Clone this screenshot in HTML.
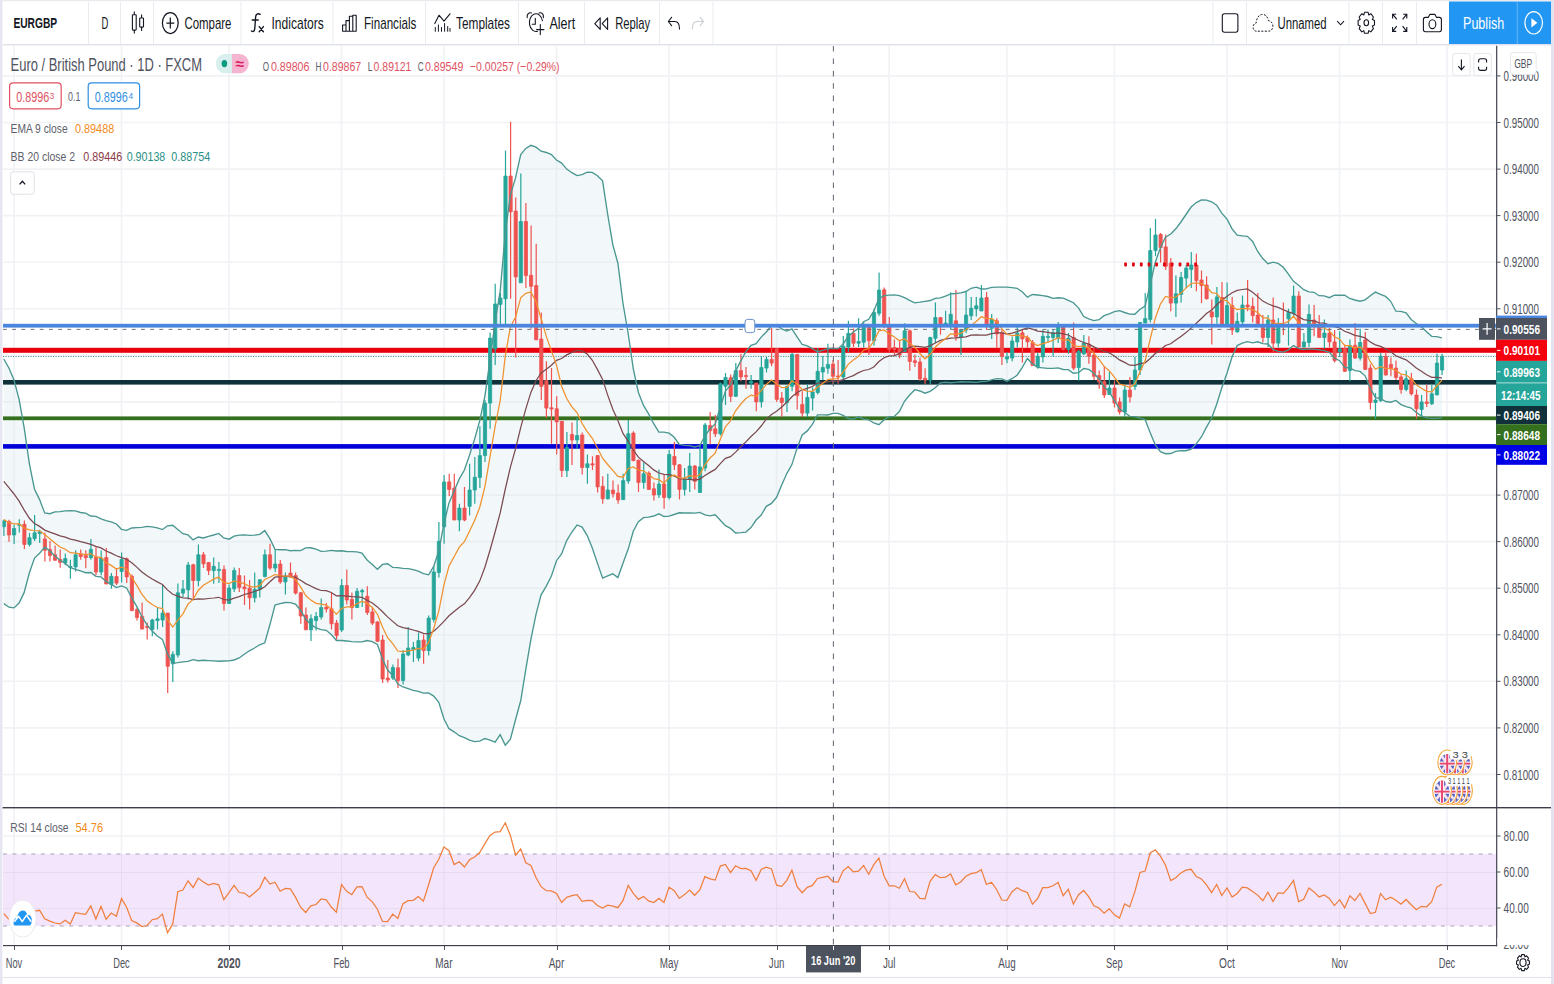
<!DOCTYPE html>
<html><head><meta charset="utf-8"><title>EURGBP</title>
<style>
html,body{margin:0;padding:0;background:#fff;}
body{width:1554px;height:984px;overflow:hidden;position:relative;font-family:"Liberation Sans",sans-serif;}
text{font-family:"Liberation Sans",sans-serif;}
</style></head><body>
<svg width="1554" height="984" viewBox="0 0 1554 984" style="position:absolute;left:0;top:0">
<rect x="0" y="0" width="1554" height="984" fill="#fff"/>
<path d="M14.0,46V945 M121.5,46V945 M229.0,46V945 M341.5,46V945 M443.9,46V945 M556.5,46V945 M669.1,46V945 M776.6,46V945 M889.2,46V945 M1006.9,46V945 M1114.4,46V945 M1227.0,46V945 M1339.6,46V945 M1447.0,46V945 M3,75.9H1496 M3,122.5H1496 M3,169.1H1496 M3,215.6H1496 M3,262.2H1496 M3,308.8H1496 M3,355.4H1496 M3,401.9H1496 M3,448.5H1496 M3,495.1H1496 M3,541.6H1496 M3,588.2H1496 M3,634.8H1496 M3,681.3H1496 M3,727.9H1496 M3,774.5H1496 M3,836.0H1496 M3,872.0H1496 M3,908.0H1496" stroke="#f1f2f5" stroke-width="1.6" fill="none"/>
<rect x="3" y="854.0" width="1493" height="72.0" fill="#f3e5fb"/>
<path d="M14.0,46V945 M121.5,46V945 M229.0,46V945 M341.5,46V945 M443.9,46V945 M556.5,46V945 M669.1,46V945 M776.6,46V945 M889.2,46V945 M1006.9,46V945 M1114.4,46V945 M1227.0,46V945 M1339.6,46V945 M1447.0,46V945" stroke="#e6dbef" stroke-width="1" fill="none" clip-path="url(#rb)"/>
<clipPath id="rb"><rect x="3" y="854.0" width="1493" height="72.0"/></clipPath>
<path d="M3,872.5H1496M3,908.5H1496" stroke="#e6dbef" stroke-width="1"/>
<path d="M3,854.0H1496M3,926.0H1496" stroke="#aaa3b7" stroke-width="1" stroke-dasharray="4,5.46"/>
<clipPath id="mp"><rect x="2" y="46" width="1494" height="761"/></clipPath>
<g clip-path="url(#mp)">
<polygon points="3.8,359.0 8.9,368.0 14.0,380.0 19.1,399.3 24.2,427.9 29.4,463.8 34.5,489.2 39.6,499.6 44.7,513.0 49.8,513.7 54.9,511.8 60.1,511.6 65.2,510.9 70.3,510.8 75.4,510.9 80.5,512.5 85.6,513.1 90.8,516.0 95.9,516.3 101.0,518.8 106.1,520.7 111.2,521.8 116.4,524.0 121.5,529.3 126.6,530.4 131.7,528.0 136.8,527.6 141.9,527.4 147.1,526.4 152.2,526.9 157.3,527.9 162.4,529.6 167.5,525.8 172.7,525.3 177.8,529.6 182.9,533.7 188.0,534.9 193.1,539.9 198.2,537.0 203.4,538.0 208.5,536.4 213.6,535.0 218.7,533.4 223.8,538.0 229.0,539.2 234.1,536.1 239.2,535.1 244.3,534.9 249.4,535.3 254.5,535.1 259.7,534.4 264.8,530.6 269.9,538.7 275.0,549.4 280.1,549.7 285.2,549.6 290.4,550.7 295.5,550.4 300.6,550.6 305.7,547.9 310.8,547.8 316.0,549.2 321.1,551.3 326.2,551.2 331.3,550.4 336.4,551.0 341.5,550.8 346.7,551.5 351.8,551.7 356.9,551.8 362.0,553.0 367.1,560.0 372.3,564.4 377.4,569.2 382.5,564.4 387.6,563.8 392.7,567.3 397.8,567.6 403.0,568.4 408.1,568.7 413.2,569.7 418.3,571.1 423.4,573.7 428.6,574.8 433.7,566.4 438.8,550.8 443.9,524.0 449.0,502.9 454.1,491.1 459.3,478.9 464.4,470.0 469.5,455.1 474.6,439.1 479.7,420.9 484.9,396.1 490.0,360.2 495.1,321.9 500.2,291.1 505.3,232.8 510.4,195.1 515.6,177.7 520.7,154.6 525.8,148.4 530.9,145.3 536.0,147.1 541.1,151.2 546.3,152.5 551.4,154.6 556.5,160.0 561.6,163.1 566.7,169.1 571.9,172.7 577.0,175.6 582.1,174.7 587.2,172.2 592.3,172.4 597.4,175.7 602.6,180.8 607.7,214.5 612.8,244.7 617.9,263.2 623.0,303.5 628.2,333.5 633.3,368.8 638.4,392.5 643.5,405.4 648.6,413.9 653.7,423.7 658.9,432.1 664.0,432.1 669.1,433.2 674.2,437.3 679.3,444.3 684.5,445.3 689.6,445.6 694.7,447.0 699.8,445.7 704.9,435.8 710.0,429.0 715.2,424.0 720.3,407.0 725.4,391.2 730.5,384.8 735.6,371.1 740.8,360.9 745.9,351.7 751.0,345.4 756.1,343.7 761.2,337.1 766.3,332.0 771.5,325.7 776.6,325.3 781.7,328.8 786.8,331.1 791.9,328.9 797.1,336.8 802.2,344.5 807.3,345.9 812.4,348.6 817.5,351.8 822.6,350.3 827.8,348.7 832.9,348.3 838.0,348.9 843.1,344.0 848.2,336.5 853.3,332.0 858.5,328.4 863.6,321.7 868.7,319.3 873.8,311.0 878.9,298.4 884.1,295.7 889.2,295.2 894.3,294.9 899.4,295.7 904.5,297.7 909.6,300.4 914.8,302.8 919.9,302.2 925.0,301.4 930.1,300.5 935.2,298.3 940.4,297.8 945.5,296.1 950.6,293.8 955.7,293.5 960.8,292.8 965.9,291.5 971.1,288.3 976.2,287.2 981.3,289.0 986.4,288.8 991.5,287.3 996.7,287.1 1001.8,287.1 1006.9,287.2 1012.0,287.7 1017.1,288.3 1022.2,291.8 1027.4,297.1 1032.5,294.5 1037.6,295.0 1042.7,295.7 1047.8,296.5 1053.0,298.4 1058.1,297.8 1063.2,298.2 1068.3,300.3 1073.4,302.7 1078.5,307.8 1083.7,316.5 1088.8,318.9 1093.9,320.6 1099.0,319.7 1104.1,315.6 1109.2,313.8 1114.4,311.6 1119.5,310.6 1124.6,312.5 1129.7,314.1 1134.8,314.2 1140.0,309.3 1145.1,306.1 1150.2,284.3 1155.3,262.3 1160.4,247.7 1165.5,237.3 1170.7,234.0 1175.8,228.8 1180.9,222.0 1186.0,214.5 1191.1,207.0 1196.3,202.6 1201.4,199.9 1206.5,200.2 1211.6,201.8 1216.7,205.2 1221.8,213.1 1227.0,219.1 1232.1,228.8 1237.2,235.2 1242.3,235.9 1247.4,236.3 1252.6,241.5 1257.7,251.5 1262.8,258.6 1267.9,263.7 1273.0,262.2 1278.1,263.4 1283.3,267.3 1288.4,274.1 1293.5,281.4 1298.6,285.3 1303.7,289.7 1308.9,291.9 1314.0,292.3 1319.1,295.7 1324.2,295.8 1329.3,297.7 1334.4,295.2 1339.6,295.2 1344.7,295.2 1349.8,298.5 1354.9,300.0 1360.0,301.2 1365.1,299.9 1370.3,295.7 1375.4,292.1 1380.5,294.3 1385.6,296.4 1390.7,301.3 1395.9,311.2 1401.0,311.3 1406.1,312.9 1411.2,319.5 1416.3,323.5 1421.4,326.7 1426.6,331.7 1431.7,336.3 1436.8,336.6 1441.9,337.9 1441.9,417.7 1436.8,418.3 1431.7,418.4 1426.6,417.8 1421.4,415.8 1416.3,412.5 1411.2,408.0 1406.1,406.7 1401.0,404.6 1395.9,400.4 1390.7,402.2 1385.6,401.5 1380.5,398.5 1375.4,397.6 1370.3,388.3 1365.1,375.8 1360.0,371.4 1354.9,370.7 1349.8,368.0 1344.7,367.3 1339.6,360.7 1334.4,358.0 1329.3,352.4 1324.2,350.7 1319.1,349.9 1314.0,349.2 1308.9,348.9 1303.7,349.5 1298.6,348.3 1293.5,345.6 1288.4,349.8 1283.3,352.1 1278.1,351.3 1273.0,349.4 1267.9,344.0 1262.8,343.7 1257.7,341.8 1252.6,342.9 1247.4,341.6 1242.3,343.2 1237.2,345.6 1232.1,356.8 1227.0,373.3 1221.8,387.7 1216.7,404.3 1211.6,418.3 1206.5,427.1 1201.4,437.0 1196.3,443.9 1191.1,449.1 1186.0,450.7 1180.9,450.7 1175.8,451.3 1170.7,453.5 1165.5,453.7 1160.4,451.6 1155.3,445.0 1150.2,432.8 1145.1,419.5 1140.0,418.1 1134.8,416.6 1129.7,416.3 1124.6,412.3 1119.5,409.1 1114.4,400.3 1109.2,391.9 1104.1,386.9 1099.0,379.0 1093.9,373.2 1088.8,369.4 1083.7,368.5 1078.5,372.7 1073.4,373.2 1068.3,369.7 1063.2,369.5 1058.1,367.9 1053.0,368.3 1047.8,368.3 1042.7,367.8 1037.6,367.3 1032.5,363.9 1027.4,358.5 1022.2,367.6 1017.1,375.2 1012.0,378.7 1006.9,381.2 1001.8,378.8 996.7,378.6 991.5,379.9 986.4,381.4 981.3,381.5 976.2,382.4 971.1,382.0 965.9,382.0 960.8,381.8 955.7,382.3 950.6,382.7 945.5,382.3 940.4,382.9 935.2,387.7 930.1,391.3 925.0,393.2 919.9,391.0 914.8,389.7 909.6,395.0 904.5,401.3 899.4,411.6 894.3,416.4 889.2,416.6 884.1,419.8 878.9,424.7 873.8,423.0 868.7,419.8 863.6,419.2 858.5,416.8 853.3,419.1 848.2,418.5 843.1,415.3 838.0,413.4 832.9,413.4 827.8,415.0 822.6,414.8 817.5,414.8 812.4,424.3 807.3,430.9 802.2,435.0 797.1,448.1 791.9,464.6 786.8,473.6 781.7,485.1 776.6,497.3 771.5,503.4 766.3,506.3 761.2,515.0 756.1,520.0 751.0,527.6 745.9,532.1 740.8,532.7 735.6,533.0 730.5,528.4 725.4,525.7 720.3,520.2 715.2,514.8 710.0,515.9 704.9,514.9 699.8,512.4 694.7,513.1 689.6,512.9 684.5,513.0 679.3,512.8 674.2,514.5 669.1,516.1 664.0,516.5 658.9,513.8 653.7,516.0 648.6,517.2 643.5,517.6 638.4,521.7 633.3,531.2 628.2,549.1 623.0,563.2 617.9,577.6 612.8,573.8 607.7,575.8 602.6,578.1 597.4,563.1 592.3,548.1 587.2,535.6 582.1,527.1 577.0,525.0 571.9,532.0 566.7,540.6 561.6,553.9 556.5,560.7 551.4,576.0 546.3,586.1 541.1,594.8 536.0,614.4 530.9,639.4 525.8,669.4 520.7,700.8 515.6,719.5 510.4,739.2 505.3,745.2 500.2,734.7 495.1,742.1 490.0,740.2 484.9,738.5 479.7,741.2 474.6,741.6 469.5,740.2 464.4,737.6 459.3,735.7 454.1,731.8 449.0,728.7 443.9,718.7 438.8,702.3 433.7,696.1 428.6,692.9 423.4,693.1 418.3,691.4 413.2,690.4 408.1,688.6 403.0,687.0 397.8,684.0 392.7,675.5 387.6,670.0 382.5,659.1 377.4,644.5 372.3,641.6 367.1,640.5 362.0,641.8 356.9,641.8 351.8,641.7 346.7,641.0 341.5,640.5 336.4,640.5 331.3,634.6 326.2,630.3 321.1,629.6 316.0,627.9 310.8,624.3 305.7,619.3 300.6,610.1 295.5,604.2 290.4,602.6 285.2,602.5 280.1,603.7 275.0,605.1 269.9,624.8 264.8,642.8 259.7,644.8 254.5,648.0 249.4,650.8 244.3,654.2 239.2,658.0 234.1,660.0 229.0,660.9 223.8,661.0 218.7,661.2 213.6,660.9 208.5,660.6 203.4,660.3 198.2,660.7 193.1,659.6 188.0,661.4 182.9,661.9 177.8,662.7 172.7,663.2 167.5,653.9 162.4,639.4 157.3,636.0 152.2,631.1 147.1,625.2 141.9,616.5 136.8,606.6 131.7,597.7 126.6,588.0 121.5,585.9 116.4,587.6 111.2,584.4 106.1,581.4 101.0,576.9 95.9,576.3 90.8,572.5 85.6,572.7 80.5,570.9 75.4,569.4 70.3,567.7 65.2,563.4 60.1,560.3 54.9,555.9 49.8,550.7 44.7,547.1 39.6,553.2 34.5,558.1 29.4,572.8 24.2,592.4 19.1,603.1 14.0,607.9 8.9,607.2 3.8,603.6" fill="#d9e9ee" fill-opacity="0.35"/>
<rect x="3" y="347.8" width="1493" height="5" fill="#e8000c"/>
<path d="M3,356.5H1496" stroke="#5f9a95" stroke-width="1" stroke-dasharray="1.2,1.3"/>
<rect x="3" y="380" width="1493" height="4.6" fill="#10303a"/>
<rect x="3" y="416.4" width="1493" height="3.8" fill="#34701e"/>
<rect x="3" y="444.1" width="1493" height="4.600" fill="#0000d8"/>
<path d="M3.9,519.7V536.0M14.1,525.1V543.9M19.3,519.2V532.6M29.5,533.0V546.4M34.6,515.0V541.0M39.7,529.7V543.1M65.3,553.6V565.3M70.4,559.8V578.7M75.6,550.2V571.5M90.9,538.9V559.8M101.2,550.4V575.2M111.4,573.1V588.8M121.6,552.5V582.5M152.3,618.8V636.3M157.5,606.9V629.4M162.6,585.0V626.9M172.8,651.3V681.9M177.9,583.5V657.5M183.0,580.0V596.9M188.2,561.9V599.4M198.4,544.4V586.3M213.7,557.5V583.8M218.9,561.9V583.1M229.1,584.4V603.5M234.2,567.5V591.9M254.7,572.5V602.5M259.8,579.4V597.5M264.9,549.4V577.5M275.2,549.4V571.9M285.4,572.5V594.4M311.0,614.4V641.0M316.1,611.9V630.6M321.2,598.5V619.4M341.7,579.0V631.9M357.1,588.1V607.5M362.2,588.8V606.9M392.9,664.4V680.0M403.1,650.0V684.4M408.2,626.9V656.3M413.4,641.9V661.9M418.5,632.5V661.3M428.7,615.6V655.6M433.8,566.0V622.5M438.9,521.9V577.5M444.1,475.0V543.8M459.4,503.8V531.3M469.6,463.8V515.6M474.8,456.9V503.8M479.9,426.3V488.1M485.0,400.0V461.9M490.1,332.5V428.8M495.2,283.8V365.0M500.4,293.1V325.0M505.5,150.5V325.0M520.8,173.6V282.8M566.9,431.9V476.9M577.1,417.5V448.8M587.4,454.4V483.8M607.8,473.8V499.4M623.2,473.8V500.0M628.3,420.0V483.8M643.7,462.5V488.8M659.0,469.4V498.1M669.2,450.0V499.4M684.6,468.1V495.6M689.7,453.1V491.9M700.0,445.6V492.5M705.1,423.1V471.3M720.4,382.5V435.6M725.5,373.1V405.0M735.8,363.1V396.9M751.1,375.0V388.8M761.4,356.3V407.5M766.5,356.9V372.5M787.0,386.0V411.9M792.1,353.1V391.3M807.4,384.4V416.9M812.6,387.5V410.6M817.7,348.1V394.4M822.8,356.0V380.0M827.9,343.8V373.8M843.3,336.0V380.0M848.4,320.7V352.0M858.6,318.3V347.0M863.7,322.2V347.6M874.0,308.9V345.8M879.1,272.6V315.8M904.7,323.3V352.0M930.3,336.8V383.9M935.4,302.6V343.3M945.6,310.8V324.5M950.7,292.3V329.5M961.0,328.9V355.1M966.1,292.0V333.3M971.2,297.0V320.1M976.3,297.0V316.4M981.4,285.1V311.0M991.7,313.9V338.9M1007.0,352.3V363.2M1012.2,336.6V361.3M1017.3,326.9V347.5M1037.7,352.5V368.8M1042.9,329.4V362.5M1048.0,329.4V342.5M1053.1,330.0V356.3M1058.2,321.9V343.1M1068.5,333.1V353.8M1078.7,349.4V380.6M1083.8,335.0V355.0M1109.4,371.9V395.0M1124.8,385.6V416.9M1135.0,356.9V390.0M1140.1,321.9V375.0M1145.2,293.1V323.1M1150.3,228.1V322.5M1155.5,219.0V256.3M1175.9,275.6V316.9M1181.1,271.9V302.5M1186.2,265.0V288.1M1191.3,251.9V288.1M1216.9,286.9V323.8M1227.1,282.5V324.4M1237.3,312.5V332.5M1242.5,295.6V324.4M1268.1,315.0V346.9M1278.3,318.1V347.5M1288.5,308.8V345.6M1293.6,285.6V317.5M1303.9,333.1V347.5M1309.0,304.4V346.9M1324.4,319.4V348.8M1339.7,331.3V356.9M1349.9,339.4V381.3M1360.2,328.8V360.6M1375.5,393.1V418.8M1380.7,353.1V401.9M1406.2,370.6V391.3M1421.6,395.0V416.3M1431.8,384.4V405.0M1437.0,353.8V395.6M1442.1,353.8V375.0" stroke="#26a69a" stroke-width="1.2" fill="none"/>
<path d="M9.0,519.7V541.7M24.4,520.5V549.0M44.9,532.6V561.5M50.0,541.0V561.5M55.1,545.6V560.3M60.2,549.4V567.8M80.7,549.4V559.8M85.8,550.2V568.2M96.0,547.3V575.3M106.3,548.1V584.0M116.5,568.1V585.0M126.7,557.5V583.1M131.9,574.4V611.3M137.0,607.5V620.6M142.1,602.5V629.4M147.2,622.5V639.4M167.7,613.1V693.1M193.3,563.8V600.0M203.5,551.9V568.1M208.6,561.9V575.0M224.0,565.6V610.6M239.3,568.1V591.9M244.5,575.6V605.0M249.6,580.0V609.4M270.0,543.8V570.0M280.3,560.0V583.8M290.5,562.5V577.5M295.6,572.5V594.4M300.8,591.9V623.8M305.9,607.5V629.8M326.3,603.1V612.5M331.5,593.1V629.4M336.6,620.0V639.4M346.8,569.4V604.4M351.9,592.5V619.4M367.3,586.3V615.0M372.4,608.0V625.0M377.5,621.3V641.9M382.6,635.0V683.1M387.8,660.0V682.5M398.0,658.8V688.0M423.6,634.4V663.8M449.2,473.8V496.3M454.3,473.8V520.0M464.5,486.9V521.3M510.6,121.8V298.8M515.7,197.4V357.5M525.9,203.0V288.1M531.1,225.5V328.8M536.2,243.8V339.8M541.3,312.5V400.0M546.4,361.3V418.1M551.5,368.1V443.8M556.7,396.3V454.4M561.8,421.3V476.9M572.0,422.5V465.0M582.2,432.5V474.4M592.5,456.3V470.0M597.6,455.0V492.5M602.7,476.3V503.8M613.0,480.6V497.5M618.1,484.4V503.8M633.4,431.3V461.3M638.5,459.4V491.9M648.8,471.3V490.0M653.9,482.5V500.6M664.1,475.0V508.8M674.4,441.9V470.0M679.5,464.0V499.4M694.8,465.0V489.4M710.2,411.9V444.4M715.3,415.0V436.9M730.7,374.4V401.9M740.9,353.8V381.3M746.0,366.9V388.8M756.3,383.0V411.3M771.6,328.1V366.3M776.7,348.0V401.9M781.8,391.9V416.9M797.2,354.0V409.4M802.3,391.3V416.9M833.0,360.0V383.8M838.1,360.0V383.8M853.5,328.5V347.0M868.9,326.5V355.0M884.2,287.6V328.3M889.3,317.0V352.6M894.4,339.5V355.1M899.6,340.1V358.3M909.8,329.5V370.8M914.9,354.5V367.0M920.0,357.6V380.8M925.1,368.3V383.9M940.5,317.0V334.5M955.9,290.1V340.8M986.6,292.0V330.1M996.8,318.3V348.3M1001.9,328.8V365.0M1022.4,330.0V362.5M1027.5,335.6V347.5M1032.6,340.0V365.6M1063.3,325.0V350.6M1073.6,322.5V370.0M1088.9,336.3V363.8M1094.0,347.5V380.0M1099.2,370.6V388.8M1104.3,366.3V398.1M1114.5,380.6V407.5M1119.6,397.5V414.4M1129.9,376.9V402.5M1160.6,233.1V262.5M1165.7,234.4V270.0M1170.8,258.1V311.3M1196.4,253.8V291.3M1201.5,270.6V303.1M1206.6,276.3V299.4M1211.8,299.4V344.4M1222.0,281.9V324.4M1232.2,296.9V335.0M1247.6,280.0V311.3M1252.7,297.5V322.5M1257.8,293.1V323.8M1262.9,315.0V342.5M1273.2,297.5V351.9M1283.4,302.5V335.0M1298.8,291.3V348.8M1314.1,305.0V336.3M1319.2,315.0V337.5M1329.5,328.1V347.5M1334.6,330.0V362.5M1344.8,344.4V371.9M1355.1,323.1V358.8M1365.3,331.9V370.0M1370.4,364.4V409.4M1385.8,352.5V375.6M1390.9,357.5V376.3M1396.0,360.6V380.0M1401.1,375.0V393.8M1411.4,373.1V395.6M1416.5,389.4V418.8M1426.7,384.4V406.9" stroke="#ef5350" stroke-width="1.2" fill="none"/>
<path d="M2.3,520.9h3.2v5.9h-3.2zM12.5,528.5h3.2v6.5h-3.2zM17.7,524.3h3.2v1.0h-3.2zM27.9,537.7h3.2v6.7h-3.2zM33.0,532.8h3.2v5.9h-3.2zM38.1,531.8h3.2v1.7h-3.2zM63.7,558.6h3.2v4.2h-3.2zM68.8,566.5h3.2v1.0h-3.2zM74.0,554.8h3.2v12.1h-3.2zM89.3,549.4h3.2v8.3h-3.2zM99.6,558.0h3.2v14.0h-3.2zM109.8,576.3h3.2v8.1h-3.2zM120.0,559.4h3.2v12.1h-3.2zM150.7,620.0h3.2v9.4h-3.2zM155.9,618.8h3.2v1.8h-3.2zM161.0,613.1h3.2v6.9h-3.2zM171.2,654.4h3.2v9.4h-3.2zM176.3,592.8h3.2v62.2h-3.2zM181.4,589.0h3.2v4.1h-3.2zM186.6,565.0h3.2v24.8h-3.2zM196.8,554.8h3.2v25.8h-3.2zM212.1,566.3h3.2v4.3h-3.2zM217.3,569.4h3.2v1.2h-3.2zM227.5,588.1h3.2v15.4h-3.2zM232.6,570.6h3.2v18.2h-3.2zM253.1,589.4h3.2v8.4h-3.2zM258.2,579.8h3.2v9.6h-3.2zM263.3,554.8h3.2v21.7h-3.2zM273.6,564.0h3.2v4.1h-3.2zM283.8,576.3h3.2v5.6h-3.2zM309.4,618.8h3.2v11.0h-3.2zM314.5,616.5h3.2v4.1h-3.2zM319.6,607.5h3.2v9.4h-3.2zM340.1,585.6h3.2v44.4h-3.2zM355.5,591.3h3.2v16.2h-3.2zM360.6,590.6h3.2v1.3h-3.2zM391.3,667.5h3.2v10.6h-3.2zM401.5,654.0h3.2v26.6h-3.2zM406.6,648.1h3.2v6.9h-3.2zM411.8,647.5h3.2v1.9h-3.2zM416.9,640.6h3.2v17.5h-3.2zM427.1,618.1h3.2v32.5h-3.2zM432.2,571.9h3.2v47.5h-3.2zM437.3,541.3h3.2v31.2h-3.2zM442.5,481.9h3.2v45.0h-3.2zM457.8,508.1h3.2v11.9h-3.2zM468.0,490.0h3.2v16.3h-3.2zM473.2,477.3h3.2v12.7h-3.2zM478.3,455.6h3.2v21.9h-3.2zM483.4,403.1h3.2v52.5h-3.2zM488.5,338.1h3.2v65.0h-3.2zM493.6,304.0h3.2v44.8h-3.2zM498.8,298.1h3.2v6.3h-3.2zM503.9,176.1h3.2v122.7h-3.2zM519.2,221.5h3.2v61.3h-3.2zM565.3,447.5h3.2v23.1h-3.2zM575.5,435.6h3.2v4.4h-3.2zM585.8,463.8h3.2v3.7h-3.2zM606.2,490.0h3.2v8.8h-3.2zM621.6,480.6h3.2v19.0h-3.2zM626.7,433.8h3.2v47.2h-3.2zM642.1,473.8h3.2v8.7h-3.2zM657.4,484.0h3.2v10.8h-3.2zM667.6,454.4h3.2v43.1h-3.2zM683.0,478.8h3.2v10.6h-3.2zM688.1,466.0h3.2v13.0h-3.2zM698.4,466.9h3.2v25.6h-3.2zM703.5,425.0h3.2v43.1h-3.2zM718.8,383.8h3.2v50.0h-3.2zM723.9,377.5h3.2v8.8h-3.2zM734.2,370.6h3.2v25.7h-3.2zM749.5,381.3h3.2v1.8h-3.2zM759.8,367.5h3.2v34.4h-3.2zM764.9,359.4h3.2v8.7h-3.2zM785.4,386.3h3.2v16.2h-3.2zM790.5,354.4h3.2v31.9h-3.2zM805.8,397.5h3.2v15.6h-3.2zM811.0,391.9h3.2v6.2h-3.2zM816.1,371.3h3.2v21.2h-3.2zM821.2,367.5h3.2v4.5h-3.2zM826.3,364.4h3.2v3.8h-3.2zM841.7,346.3h3.2v30.7h-3.2zM846.8,333.4h3.2v13.6h-3.2zM857.0,341.6h3.2v1.6h-3.2zM862.1,325.4h3.2v16.8h-3.2zM872.4,312.6h3.2v28.2h-3.2zM877.5,290.1h3.2v23.2h-3.2zM903.1,330.8h3.2v20.6h-3.2zM928.7,337.6h3.2v42.5h-3.2zM933.8,317.6h3.2v20.7h-3.2zM944.0,323.0h3.2v1.5h-3.2zM949.1,314.3h3.2v9.6h-3.2zM959.4,329.5h3.2v7.5h-3.2zM964.5,315.1h3.2v15.0h-3.2zM969.6,308.3h3.2v7.5h-3.2zM974.7,305.8h3.2v3.1h-3.2zM979.8,298.0h3.2v13.0h-3.2zM990.1,319.5h3.2v8.8h-3.2zM1005.4,357.0h3.2v2.0h-3.2zM1010.6,341.0h3.2v17.0h-3.2zM1015.7,333.1h3.2v8.8h-3.2zM1036.1,356.3h3.2v10.6h-3.2zM1041.3,336.3h3.2v20.6h-3.2zM1046.4,336.3h3.2v1.2h-3.2zM1051.5,332.8h3.2v4.7h-3.2zM1056.6,326.9h3.2v11.2h-3.2zM1066.9,338.1h3.2v11.3h-3.2zM1077.1,351.3h3.2v16.2h-3.2zM1082.2,343.1h3.2v10.7h-3.2zM1107.8,388.1h3.2v6.3h-3.2zM1123.2,390.0h3.2v21.9h-3.2zM1133.4,370.0h3.2v16.3h-3.2zM1138.5,322.5h3.2v47.5h-3.2zM1143.6,318.5h3.2v4.6h-3.2zM1148.7,250.6h3.2v68.8h-3.2zM1153.9,235.0h3.2v15.6h-3.2zM1174.3,293.8h3.2v9.3h-3.2zM1179.5,277.5h3.2v16.9h-3.2zM1184.6,268.1h3.2v10.0h-3.2zM1189.7,265.0h3.2v4.4h-3.2zM1215.3,296.9h3.2v20.0h-3.2zM1225.5,305.6h3.2v18.8h-3.2zM1235.7,321.3h3.2v10.6h-3.2zM1240.9,305.0h3.2v16.9h-3.2zM1266.5,320.0h3.2v17.5h-3.2zM1276.7,324.4h3.2v18.7h-3.2zM1286.9,312.5h3.2v6.3h-3.2zM1292.0,296.0h3.2v17.8h-3.2zM1302.3,341.9h3.2v5.0h-3.2zM1307.4,314.4h3.2v28.1h-3.2zM1322.8,333.1h3.2v4.4h-3.2zM1338.1,348.8h3.2v3.1h-3.2zM1348.3,345.6h3.2v25.0h-3.2zM1358.6,342.5h3.2v15.6h-3.2zM1373.9,400.0h3.2v2.5h-3.2zM1379.1,356.3h3.2v44.3h-3.2zM1404.6,378.8h3.2v10.6h-3.2zM1420.0,401.9h3.2v7.5h-3.2zM1430.2,393.8h3.2v10.0h-3.2zM1435.4,363.1h3.2v31.7h-3.2zM1440.5,356.3h3.2v13.7h-3.2z" fill="#26a69a" stroke="#26a69a" stroke-width="0.8"/>
<path d="M7.4,521.6h3.2v13.4h-3.2zM22.8,524.3h3.2v20.1h-3.2zM43.3,538.9h3.2v11.3h-3.2zM48.4,549.4h3.2v6.2h-3.2zM53.5,554.8h3.2v5.5h-3.2zM58.6,559.4h3.2v2.9h-3.2zM79.1,554.0h3.2v2.5h-3.2zM84.2,555.6h3.2v2.1h-3.2zM94.4,556.9h3.2v15.1h-3.2zM104.7,557.5h3.2v26.5h-3.2zM114.9,576.5h3.2v6.6h-3.2zM125.1,558.8h3.2v18.1h-3.2zM130.3,576.3h3.2v34.3h-3.2zM135.4,609.4h3.2v8.1h-3.2zM140.5,616.3h3.2v12.7h-3.2zM145.6,626.3h3.2v1.2h-3.2zM166.1,613.1h3.2v53.2h-3.2zM191.7,564.8h3.2v15.8h-3.2zM201.9,554.8h3.2v9.0h-3.2zM207.0,562.5h3.2v8.1h-3.2zM222.4,569.6h3.2v33.9h-3.2zM237.7,575.6h3.2v11.9h-3.2zM242.9,586.9h3.2v1.9h-3.2zM248.0,588.1h3.2v9.7h-3.2zM268.4,554.8h3.2v13.3h-3.2zM278.7,564.0h3.2v17.9h-3.2zM288.9,573.1h3.2v3.8h-3.2zM294.0,575.6h3.2v17.5h-3.2zM299.2,592.8h3.2v23.2h-3.2zM304.3,615.0h3.2v14.8h-3.2zM324.7,607.3h3.2v1.7h-3.2zM329.9,608.8h3.2v15.0h-3.2zM335.0,623.1h3.2v12.5h-3.2zM345.2,585.6h3.2v14.4h-3.2zM350.3,599.4h3.2v8.1h-3.2zM365.7,596.3h3.2v16.2h-3.2zM370.8,611.9h3.2v11.2h-3.2zM375.9,621.9h3.2v19.4h-3.2zM381.0,640.0h3.2v39.0h-3.2zM386.2,678.1h3.2v1.9h-3.2zM396.4,667.8h3.2v12.8h-3.2zM422.0,640.0h3.2v10.6h-3.2zM447.6,481.9h3.2v7.5h-3.2zM452.7,488.1h3.2v31.9h-3.2zM462.9,508.1h3.2v11.9h-3.2zM509.0,176.1h3.2v35.7h-3.2zM514.1,211.1h3.2v65.8h-3.2zM524.3,221.5h3.2v54.1h-3.2zM529.5,275.3h3.2v11.0h-3.2zM534.6,285.6h3.2v54.2h-3.2zM539.7,339.0h3.2v47.3h-3.2zM544.8,380.6h3.2v27.5h-3.2zM549.9,407.8h3.2v1.2h-3.2zM555.1,408.8h3.2v13.1h-3.2zM560.2,421.3h3.2v49.3h-3.2zM570.4,434.4h3.2v5.6h-3.2zM580.6,435.0h3.2v32.5h-3.2zM590.9,463.8h3.2v1.2h-3.2zM596.0,455.6h3.2v31.3h-3.2zM601.1,486.3h3.2v12.5h-3.2zM611.4,490.0h3.2v3.8h-3.2zM616.5,493.1h3.2v6.9h-3.2zM631.8,433.1h3.2v27.5h-3.2zM636.9,460.3h3.2v22.2h-3.2zM647.2,473.1h3.2v16.3h-3.2zM652.3,488.8h3.2v6.2h-3.2zM662.5,484.0h3.2v13.5h-3.2zM672.8,456.5h3.2v8.3h-3.2zM677.9,464.8h3.2v24.6h-3.2zM693.2,466.0h3.2v15.3h-3.2zM708.6,425.6h3.2v5.0h-3.2zM713.7,428.8h3.2v5.0h-3.2zM729.1,377.8h3.2v18.5h-3.2zM739.3,370.6h3.2v6.3h-3.2zM744.4,375.6h3.2v1.0h-3.2zM754.7,383.1h3.2v18.8h-3.2zM770.0,359.4h3.2v3.7h-3.2zM775.1,348.8h3.2v50.6h-3.2zM780.2,398.1h3.2v4.4h-3.2zM795.6,354.4h3.2v41.2h-3.2zM800.7,404.4h3.2v8.7h-3.2zM831.4,364.0h3.2v12.3h-3.2zM836.5,376.0h3.2v1.0h-3.2zM851.9,333.5h3.2v9.7h-3.2zM867.3,327.0h3.2v13.7h-3.2zM882.6,289.8h3.2v36.6h-3.2zM887.7,327.0h3.2v22.5h-3.2zM892.8,347.6h3.2v1.9h-3.2zM898.0,348.9h3.2v6.2h-3.2zM908.2,330.8h3.2v30.6h-3.2zM913.3,360.8h3.2v1.8h-3.2zM918.4,362.0h3.2v16.9h-3.2zM923.5,378.3h3.2v1.8h-3.2zM938.9,317.6h3.2v6.9h-3.2zM954.3,320.8h3.2v15.6h-3.2zM985.0,297.6h3.2v26.9h-3.2zM995.2,320.8h3.2v13.1h-3.2zM1000.3,332.6h3.2v23.8h-3.2zM1020.8,332.8h3.2v6.0h-3.2zM1025.9,337.5h3.2v4.4h-3.2zM1031.0,342.5h3.2v23.1h-3.2zM1061.7,326.9h3.2v22.5h-3.2zM1072.0,337.5h3.2v30.6h-3.2zM1087.3,344.4h3.2v11.9h-3.2zM1092.4,355.0h3.2v21.3h-3.2zM1097.6,375.6h3.2v6.3h-3.2zM1102.7,381.3h3.2v13.7h-3.2zM1112.9,388.1h3.2v15.0h-3.2zM1118.0,401.9h3.2v10.0h-3.2zM1128.3,390.0h3.2v6.9h-3.2zM1159.0,234.4h3.2v13.1h-3.2zM1164.1,246.9h3.2v19.4h-3.2zM1169.2,263.1h3.2v40.0h-3.2zM1194.8,265.0h3.2v15.6h-3.2zM1199.9,280.0h3.2v5.6h-3.2zM1205.0,285.0h3.2v13.8h-3.2zM1210.2,311.9h3.2v5.0h-3.2zM1220.4,297.5h3.2v26.9h-3.2zM1230.6,305.6h3.2v24.4h-3.2zM1246.0,305.0h3.2v1.9h-3.2zM1251.1,306.3h3.2v9.3h-3.2zM1256.2,315.0h3.2v8.8h-3.2zM1261.3,327.5h3.2v10.0h-3.2zM1271.6,320.0h3.2v23.1h-3.2zM1281.8,324.0h3.2v1.0h-3.2zM1297.2,296.0h3.2v50.9h-3.2zM1312.5,320.0h3.2v4.4h-3.2zM1317.6,326.9h3.2v10.6h-3.2zM1327.9,333.1h3.2v8.8h-3.2zM1333.0,341.9h3.2v18.7h-3.2zM1343.2,348.6h3.2v22.7h-3.2zM1353.5,345.3h3.2v12.8h-3.2zM1363.7,340.0h3.2v29.4h-3.2zM1368.8,368.1h3.2v34.4h-3.2zM1384.2,356.3h3.2v18.7h-3.2zM1389.3,364.4h3.2v4.4h-3.2zM1394.4,368.1h3.2v9.4h-3.2zM1399.5,376.9h3.2v12.5h-3.2zM1409.8,378.8h3.2v15.0h-3.2zM1414.9,395.0h3.2v13.8h-3.2zM1425.1,401.9h3.2v1.6h-3.2z" fill="#ef5350" stroke="#ef5350" stroke-width="0.8"/>
<path d="M3.8,359.0 L8.9,368.0 L14.0,380.0 L19.1,399.3 L24.2,427.9 L29.4,463.8 L34.5,489.2 L39.6,499.6 L44.7,513.0 L49.8,513.7 L54.9,511.8 L60.1,511.6 L65.2,510.9 L70.3,510.8 L75.4,510.9 L80.5,512.5 L85.6,513.1 L90.8,516.0 L95.9,516.3 L101.0,518.8 L106.1,520.7 L111.2,521.8 L116.4,524.0 L121.5,529.3 L126.6,530.4 L131.7,528.0 L136.8,527.6 L141.9,527.4 L147.1,526.4 L152.2,526.9 L157.3,527.9 L162.4,529.6 L167.5,525.8 L172.7,525.3 L177.8,529.6 L182.9,533.7 L188.0,534.9 L193.1,539.9 L198.2,537.0 L203.4,538.0 L208.5,536.4 L213.6,535.0 L218.7,533.4 L223.8,538.0 L229.0,539.2 L234.1,536.1 L239.2,535.1 L244.3,534.9 L249.4,535.3 L254.5,535.1 L259.7,534.4 L264.8,530.6 L269.9,538.7 L275.0,549.4 L280.1,549.7 L285.2,549.6 L290.4,550.7 L295.5,550.4 L300.6,550.6 L305.7,547.9 L310.8,547.8 L316.0,549.2 L321.1,551.3 L326.2,551.2 L331.3,550.4 L336.4,551.0 L341.5,550.8 L346.7,551.5 L351.8,551.7 L356.9,551.8 L362.0,553.0 L367.1,560.0 L372.3,564.4 L377.4,569.2 L382.5,564.4 L387.6,563.8 L392.7,567.3 L397.8,567.6 L403.0,568.4 L408.1,568.7 L413.2,569.7 L418.3,571.1 L423.4,573.7 L428.6,574.8 L433.7,566.4 L438.8,550.8 L443.9,524.0 L449.0,502.9 L454.1,491.1 L459.3,478.9 L464.4,470.0 L469.5,455.1 L474.6,439.1 L479.7,420.9 L484.9,396.1 L490.0,360.2 L495.1,321.9 L500.2,291.1 L505.3,232.8 L510.4,195.1 L515.6,177.7 L520.7,154.6 L525.8,148.4 L530.9,145.3 L536.0,147.1 L541.1,151.2 L546.3,152.5 L551.4,154.6 L556.5,160.0 L561.6,163.1 L566.7,169.1 L571.9,172.7 L577.0,175.6 L582.1,174.7 L587.2,172.2 L592.3,172.4 L597.4,175.7 L602.6,180.8 L607.7,214.5 L612.8,244.7 L617.9,263.2 L623.0,303.5 L628.2,333.5 L633.3,368.8 L638.4,392.5 L643.5,405.4 L648.6,413.9 L653.7,423.7 L658.9,432.1 L664.0,432.1 L669.1,433.2 L674.2,437.3 L679.3,444.3 L684.5,445.3 L689.6,445.6 L694.7,447.0 L699.8,445.7 L704.9,435.8 L710.0,429.0 L715.2,424.0 L720.3,407.0 L725.4,391.2 L730.5,384.8 L735.6,371.1 L740.8,360.9 L745.9,351.7 L751.0,345.4 L756.1,343.7 L761.2,337.1 L766.3,332.0 L771.5,325.7 L776.6,325.3 L781.7,328.8 L786.8,331.1 L791.9,328.9 L797.1,336.8 L802.2,344.5 L807.3,345.9 L812.4,348.6 L817.5,351.8 L822.6,350.3 L827.8,348.7 L832.9,348.3 L838.0,348.9 L843.1,344.0 L848.2,336.5 L853.3,332.0 L858.5,328.4 L863.6,321.7 L868.7,319.3 L873.8,311.0 L878.9,298.4 L884.1,295.7 L889.2,295.2 L894.3,294.9 L899.4,295.7 L904.5,297.7 L909.6,300.4 L914.8,302.8 L919.9,302.2 L925.0,301.4 L930.1,300.5 L935.2,298.3 L940.4,297.8 L945.5,296.1 L950.6,293.8 L955.7,293.5 L960.8,292.8 L965.9,291.5 L971.1,288.3 L976.2,287.2 L981.3,289.0 L986.4,288.8 L991.5,287.3 L996.7,287.1 L1001.8,287.1 L1006.9,287.2 L1012.0,287.7 L1017.1,288.3 L1022.2,291.8 L1027.4,297.1 L1032.5,294.5 L1037.6,295.0 L1042.7,295.7 L1047.8,296.5 L1053.0,298.4 L1058.1,297.8 L1063.2,298.2 L1068.3,300.3 L1073.4,302.7 L1078.5,307.8 L1083.7,316.5 L1088.8,318.9 L1093.9,320.6 L1099.0,319.7 L1104.1,315.6 L1109.2,313.8 L1114.4,311.6 L1119.5,310.6 L1124.6,312.5 L1129.7,314.1 L1134.8,314.2 L1140.0,309.3 L1145.1,306.1 L1150.2,284.3 L1155.3,262.3 L1160.4,247.7 L1165.5,237.3 L1170.7,234.0 L1175.8,228.8 L1180.9,222.0 L1186.0,214.5 L1191.1,207.0 L1196.3,202.6 L1201.4,199.9 L1206.5,200.2 L1211.6,201.8 L1216.7,205.2 L1221.8,213.1 L1227.0,219.1 L1232.1,228.8 L1237.2,235.2 L1242.3,235.9 L1247.4,236.3 L1252.6,241.5 L1257.7,251.5 L1262.8,258.6 L1267.9,263.7 L1273.0,262.2 L1278.1,263.4 L1283.3,267.3 L1288.4,274.1 L1293.5,281.4 L1298.6,285.3 L1303.7,289.7 L1308.9,291.9 L1314.0,292.3 L1319.1,295.7 L1324.2,295.8 L1329.3,297.7 L1334.4,295.2 L1339.6,295.2 L1344.7,295.2 L1349.8,298.5 L1354.9,300.0 L1360.0,301.2 L1365.1,299.9 L1370.3,295.7 L1375.4,292.1 L1380.5,294.3 L1385.6,296.4 L1390.7,301.3 L1395.9,311.2 L1401.0,311.3 L1406.1,312.9 L1411.2,319.5 L1416.3,323.5 L1421.4,326.7 L1426.6,331.7 L1431.7,336.3 L1436.8,336.6 L1441.9,337.9" fill="none" stroke="#4a9791" stroke-width="1.35"/>
<path d="M3.8,603.6 L8.9,607.2 L14.0,607.9 L19.1,603.1 L24.2,592.4 L29.4,572.8 L34.5,558.1 L39.6,553.2 L44.7,547.1 L49.8,550.7 L54.9,555.9 L60.1,560.3 L65.2,563.4 L70.3,567.7 L75.4,569.4 L80.5,570.9 L85.6,572.7 L90.8,572.5 L95.9,576.3 L101.0,576.9 L106.1,581.4 L111.2,584.4 L116.4,587.6 L121.5,585.9 L126.6,588.0 L131.7,597.7 L136.8,606.6 L141.9,616.5 L147.1,625.2 L152.2,631.1 L157.3,636.0 L162.4,639.4 L167.5,653.9 L172.7,663.2 L177.8,662.7 L182.9,661.9 L188.0,661.4 L193.1,659.6 L198.2,660.7 L203.4,660.3 L208.5,660.6 L213.6,660.9 L218.7,661.2 L223.8,661.0 L229.0,660.9 L234.1,660.0 L239.2,658.0 L244.3,654.2 L249.4,650.8 L254.5,648.0 L259.7,644.8 L264.8,642.8 L269.9,624.8 L275.0,605.1 L280.1,603.7 L285.2,602.5 L290.4,602.6 L295.5,604.2 L300.6,610.1 L305.7,619.3 L310.8,624.3 L316.0,627.9 L321.1,629.6 L326.2,630.3 L331.3,634.6 L336.4,640.5 L341.5,640.5 L346.7,641.0 L351.8,641.7 L356.9,641.8 L362.0,641.8 L367.1,640.5 L372.3,641.6 L377.4,644.5 L382.5,659.1 L387.6,670.0 L392.7,675.5 L397.8,684.0 L403.0,687.0 L408.1,688.6 L413.2,690.4 L418.3,691.4 L423.4,693.1 L428.6,692.9 L433.7,696.1 L438.8,702.3 L443.9,718.7 L449.0,728.7 L454.1,731.8 L459.3,735.7 L464.4,737.6 L469.5,740.2 L474.6,741.6 L479.7,741.2 L484.9,738.5 L490.0,740.2 L495.1,742.1 L500.2,734.7 L505.3,745.2 L510.4,739.2 L515.6,719.5 L520.7,700.8 L525.8,669.4 L530.9,639.4 L536.0,614.4 L541.1,594.8 L546.3,586.1 L551.4,576.0 L556.5,560.7 L561.6,553.9 L566.7,540.6 L571.9,532.0 L577.0,525.0 L582.1,527.1 L587.2,535.6 L592.3,548.1 L597.4,563.1 L602.6,578.1 L607.7,575.8 L612.8,573.8 L617.9,577.6 L623.0,563.2 L628.2,549.1 L633.3,531.2 L638.4,521.7 L643.5,517.6 L648.6,517.2 L653.7,516.0 L658.9,513.8 L664.0,516.5 L669.1,516.1 L674.2,514.5 L679.3,512.8 L684.5,513.0 L689.6,512.9 L694.7,513.1 L699.8,512.4 L704.9,514.9 L710.0,515.9 L715.2,514.8 L720.3,520.2 L725.4,525.7 L730.5,528.4 L735.6,533.0 L740.8,532.7 L745.9,532.1 L751.0,527.6 L756.1,520.0 L761.2,515.0 L766.3,506.3 L771.5,503.4 L776.6,497.3 L781.7,485.1 L786.8,473.6 L791.9,464.6 L797.1,448.1 L802.2,435.0 L807.3,430.9 L812.4,424.3 L817.5,414.8 L822.6,414.8 L827.8,415.0 L832.9,413.4 L838.0,413.4 L843.1,415.3 L848.2,418.5 L853.3,419.1 L858.5,416.8 L863.6,419.2 L868.7,419.8 L873.8,423.0 L878.9,424.7 L884.1,419.8 L889.2,416.6 L894.3,416.4 L899.4,411.6 L904.5,401.3 L909.6,395.0 L914.8,389.7 L919.9,391.0 L925.0,393.2 L930.1,391.3 L935.2,387.7 L940.4,382.9 L945.5,382.3 L950.6,382.7 L955.7,382.3 L960.8,381.8 L965.9,382.0 L971.1,382.0 L976.2,382.4 L981.3,381.5 L986.4,381.4 L991.5,379.9 L996.7,378.6 L1001.8,378.8 L1006.9,381.2 L1012.0,378.7 L1017.1,375.2 L1022.2,367.6 L1027.4,358.5 L1032.5,363.9 L1037.6,367.3 L1042.7,367.8 L1047.8,368.3 L1053.0,368.3 L1058.1,367.9 L1063.2,369.5 L1068.3,369.7 L1073.4,373.2 L1078.5,372.7 L1083.7,368.5 L1088.8,369.4 L1093.9,373.2 L1099.0,379.0 L1104.1,386.9 L1109.2,391.9 L1114.4,400.3 L1119.5,409.1 L1124.6,412.3 L1129.7,416.3 L1134.8,416.6 L1140.0,418.1 L1145.1,419.5 L1150.2,432.8 L1155.3,445.0 L1160.4,451.6 L1165.5,453.7 L1170.7,453.5 L1175.8,451.3 L1180.9,450.7 L1186.0,450.7 L1191.1,449.1 L1196.3,443.9 L1201.4,437.0 L1206.5,427.1 L1211.6,418.3 L1216.7,404.3 L1221.8,387.7 L1227.0,373.3 L1232.1,356.8 L1237.2,345.6 L1242.3,343.2 L1247.4,341.6 L1252.6,342.9 L1257.7,341.8 L1262.8,343.7 L1267.9,344.0 L1273.0,349.4 L1278.1,351.3 L1283.3,352.1 L1288.4,349.8 L1293.5,345.6 L1298.6,348.3 L1303.7,349.5 L1308.9,348.9 L1314.0,349.2 L1319.1,349.9 L1324.2,350.7 L1329.3,352.4 L1334.4,358.0 L1339.6,360.7 L1344.7,367.3 L1349.8,368.0 L1354.9,370.7 L1360.0,371.4 L1365.1,375.8 L1370.3,388.3 L1375.4,397.6 L1380.5,398.5 L1385.6,401.5 L1390.7,402.2 L1395.9,400.4 L1401.0,404.6 L1406.1,406.7 L1411.2,408.0 L1416.3,412.5 L1421.4,415.8 L1426.6,417.8 L1431.7,418.4 L1436.8,418.3 L1441.9,417.7" fill="none" stroke="#4a9791" stroke-width="1.35"/>
<path d="M3.8,481.3 L8.9,487.6 L14.0,494.0 L19.1,501.2 L24.2,510.1 L29.4,518.3 L34.5,523.6 L39.6,526.4 L44.7,530.1 L49.8,532.2 L54.9,533.8 L60.1,535.9 L65.2,537.1 L70.3,539.2 L75.4,540.1 L80.5,541.7 L85.6,542.9 L90.8,544.3 L95.9,546.3 L101.0,547.9 L106.1,551.0 L111.2,553.1 L116.4,555.8 L121.5,557.6 L126.6,559.2 L131.7,562.8 L136.8,567.1 L141.9,571.9 L147.1,575.8 L152.2,579.0 L157.3,581.9 L162.4,584.5 L167.5,589.9 L172.7,594.3 L177.8,596.2 L182.9,597.8 L188.0,598.2 L193.1,599.7 L198.2,598.9 L203.4,599.1 L208.5,598.5 L213.6,598.0 L218.7,597.3 L223.8,599.5 L229.0,600.1 L234.1,598.1 L239.2,596.6 L244.3,594.5 L249.4,593.1 L254.5,591.5 L259.7,589.6 L264.8,586.7 L269.9,581.8 L275.0,577.2 L280.1,576.7 L285.2,576.1 L290.4,576.6 L295.5,577.3 L300.6,580.3 L305.7,583.6 L310.8,586.0 L316.0,588.6 L321.1,590.5 L326.2,590.7 L331.3,592.5 L336.4,595.8 L341.5,595.7 L346.7,596.2 L351.8,596.7 L356.9,596.8 L362.0,597.4 L367.1,600.2 L372.3,603.0 L377.4,606.9 L382.5,611.7 L387.6,616.9 L392.7,621.4 L397.8,625.8 L403.0,627.7 L408.1,628.6 L413.2,630.0 L418.3,631.3 L423.4,633.4 L428.6,633.9 L433.7,631.3 L438.8,626.6 L443.9,621.4 L449.0,615.8 L454.1,611.5 L459.3,607.3 L464.4,603.8 L469.5,597.6 L474.6,590.4 L479.7,581.1 L484.9,567.3 L490.0,550.2 L495.1,532.0 L500.2,512.9 L505.3,489.0 L510.4,467.2 L515.6,448.6 L520.7,427.7 L525.8,408.9 L530.9,392.4 L536.0,380.7 L541.1,373.0 L546.3,369.3 L551.4,365.3 L556.5,360.4 L561.6,358.5 L566.7,354.9 L571.9,352.4 L577.0,350.3 L582.1,350.9 L587.2,353.9 L592.3,360.3 L597.4,369.4 L602.6,379.4 L607.7,395.1 L612.8,409.2 L617.9,420.4 L623.0,433.4 L628.2,441.3 L633.3,450.0 L638.4,457.1 L643.5,461.5 L648.6,465.6 L653.7,469.9 L658.9,473.0 L664.0,474.3 L669.1,474.6 L674.2,475.9 L679.3,478.6 L684.5,479.1 L689.6,479.3 L694.7,480.1 L699.8,479.1 L704.9,475.4 L710.0,472.4 L715.2,469.4 L720.3,463.6 L725.4,458.4 L730.5,456.6 L735.6,452.1 L740.8,446.8 L745.9,441.9 L751.0,436.5 L756.1,431.9 L761.2,426.0 L766.3,419.1 L771.5,414.6 L776.6,411.3 L781.7,407.0 L786.8,402.3 L791.9,396.8 L797.1,392.5 L802.2,389.8 L807.3,388.4 L812.4,386.5 L817.5,383.3 L822.6,382.5 L827.8,381.9 L832.9,380.9 L838.0,381.2 L843.1,379.6 L848.2,377.5 L853.3,375.6 L858.5,372.6 L863.6,370.5 L868.7,369.5 L873.8,367.0 L878.9,361.5 L884.1,357.7 L889.2,355.9 L894.3,355.7 L899.4,353.6 L904.5,349.5 L909.6,347.7 L914.8,346.2 L919.9,346.6 L925.0,347.3 L930.1,345.9 L935.2,343.0 L940.4,340.4 L945.5,339.2 L950.6,338.2 L955.7,337.9 L960.8,337.3 L965.9,336.8 L971.1,335.2 L976.2,334.8 L981.3,335.2 L986.4,335.1 L991.5,333.6 L996.7,332.8 L1001.8,332.9 L1006.9,334.2 L1012.0,333.2 L1017.1,331.7 L1022.2,329.7 L1027.4,327.8 L1032.5,329.2 L1037.6,331.1 L1042.7,331.7 L1047.8,332.4 L1053.0,333.3 L1058.1,332.9 L1063.2,333.8 L1068.3,335.0 L1073.4,338.0 L1078.5,340.3 L1083.7,342.5 L1088.8,344.1 L1093.9,346.9 L1099.0,349.3 L1104.1,351.3 L1109.2,352.8 L1114.4,355.9 L1119.5,359.9 L1124.6,362.4 L1129.7,365.2 L1134.8,365.4 L1140.0,363.7 L1145.1,362.8 L1150.2,358.5 L1155.3,353.6 L1160.4,349.7 L1165.5,345.5 L1170.7,343.8 L1175.8,340.1 L1180.9,336.4 L1186.0,332.6 L1191.1,328.1 L1196.3,323.3 L1201.4,318.5 L1206.5,313.6 L1211.6,310.1 L1216.7,304.8 L1221.8,300.4 L1227.0,296.2 L1232.1,292.8 L1237.2,290.4 L1242.3,289.5 L1247.4,288.9 L1252.6,292.2 L1257.7,296.6 L1262.8,301.1 L1267.9,303.8 L1273.0,305.8 L1278.1,307.4 L1283.3,309.7 L1288.4,311.9 L1293.5,313.5 L1298.6,316.8 L1303.7,319.6 L1308.9,320.4 L1314.0,320.8 L1319.1,322.8 L1324.2,323.2 L1329.3,325.1 L1334.4,326.6 L1339.6,328.0 L1344.7,331.3 L1349.8,333.2 L1354.9,335.3 L1360.0,336.3 L1365.1,337.9 L1370.3,342.0 L1375.4,344.8 L1380.5,346.4 L1385.6,348.9 L1390.7,351.8 L1395.9,355.8 L1401.0,357.9 L1406.1,359.8 L1411.2,363.8 L1416.3,368.0 L1421.4,371.2 L1426.6,374.7 L1431.7,377.3 L1436.8,377.4 L1441.9,377.8" fill="none" stroke="#7a4a50" stroke-width="1.25"/>
<path d="M3.8,519.5 L8.9,522.6 L14.0,523.8 L19.1,523.9 L24.2,528.0 L29.4,529.9 L34.5,530.5 L39.6,530.8 L44.7,534.6 L49.8,538.8 L54.9,543.1 L60.1,547.0 L65.2,549.3 L70.3,552.7 L75.4,553.1 L80.5,553.8 L85.6,554.6 L90.8,553.6 L95.9,557.2 L101.0,557.4 L106.1,562.7 L111.2,565.4 L116.4,569.0 L121.5,567.1 L126.6,569.0 L131.7,577.3 L136.8,585.4 L141.9,594.1 L147.1,600.8 L152.2,604.6 L157.3,607.5 L162.4,608.6 L167.5,620.1 L172.7,627.0 L177.8,620.1 L182.9,613.9 L188.0,604.1 L193.1,599.4 L198.2,590.5 L203.4,585.2 L208.5,582.2 L213.6,579.1 L218.7,577.1 L223.8,582.4 L229.0,583.5 L234.1,581.0 L239.2,582.3 L244.3,583.6 L249.4,586.4 L254.5,587.0 L259.7,585.6 L264.8,579.4 L269.9,577.2 L275.0,574.5 L280.1,576.0 L285.2,576.1 L290.4,576.2 L295.5,579.6 L300.6,586.9 L305.7,595.5 L310.8,600.1 L316.0,603.4 L321.1,604.2 L326.2,605.2 L331.3,608.9 L336.4,614.2 L341.5,608.5 L346.7,606.8 L351.8,606.9 L356.9,603.8 L362.0,601.2 L367.1,603.4 L372.3,607.4 L377.4,614.2 L382.5,627.1 L387.6,637.7 L392.7,643.7 L397.8,651.0 L403.0,651.6 L408.1,650.9 L413.2,650.2 L418.3,648.3 L423.4,648.8 L428.6,642.6 L433.7,628.5 L438.8,611.1 L443.9,585.2 L449.0,566.1 L454.1,556.8 L459.3,547.1 L464.4,541.7 L469.5,531.3 L474.6,520.5 L479.7,507.5 L484.9,486.7 L490.0,456.9 L495.1,426.4 L500.2,400.7 L505.3,355.8 L510.4,327.0 L515.6,317.0 L520.7,297.9 L525.8,293.4 L530.9,292.0 L536.0,301.6 L541.1,318.5 L546.3,336.4 L551.4,350.9 L556.5,365.1 L561.6,386.2 L566.7,398.5 L571.9,406.8 L577.0,412.5 L582.1,423.5 L587.2,431.6 L592.3,438.3 L597.4,448.0 L602.6,458.2 L607.7,464.5 L612.8,470.4 L617.9,476.3 L623.0,477.2 L628.2,468.5 L633.3,466.9 L638.4,470.0 L643.5,470.8 L648.6,474.5 L653.7,478.6 L658.9,479.7 L664.0,483.2 L669.1,477.5 L674.2,474.9 L679.3,477.8 L684.5,478.0 L689.6,475.6 L694.7,476.8 L699.8,474.8 L704.9,464.8 L710.0,458.0 L715.2,453.1 L720.3,439.3 L725.4,426.9 L730.5,420.8 L735.6,410.8 L740.8,404.0 L745.9,398.5 L751.0,395.1 L756.1,396.4 L761.2,390.6 L766.3,384.4 L771.5,380.1 L776.6,384.0 L781.7,387.7 L786.8,387.4 L791.9,380.8 L797.1,383.8 L802.2,389.6 L807.3,391.2 L812.4,391.3 L817.5,387.3 L822.6,383.4 L827.8,379.6 L832.9,378.9 L838.0,378.5 L843.1,372.1 L848.2,364.3 L853.3,360.1 L858.5,356.4 L863.6,350.2 L868.7,348.3 L873.8,341.2 L878.9,330.9 L884.1,330.0 L889.2,333.9 L894.3,337.0 L899.4,340.7 L904.5,338.7 L909.6,343.2 L914.8,347.1 L919.9,353.5 L925.0,358.8 L930.1,354.6 L935.2,347.2 L940.4,342.6 L945.5,338.7 L950.6,333.8 L955.7,334.3 L960.8,333.4 L965.9,329.7 L971.1,325.4 L976.2,321.5 L981.3,316.8 L986.4,318.3 L991.5,318.6 L996.7,321.6 L1001.8,328.6 L1006.9,334.3 L1012.0,335.6 L1017.1,335.1 L1022.2,335.9 L1027.4,337.1 L1032.5,342.8 L1037.6,345.5 L1042.7,343.6 L1047.8,342.2 L1053.0,340.3 L1058.1,337.6 L1063.2,340.0 L1068.3,339.6 L1073.4,345.3 L1078.5,346.5 L1083.7,345.8 L1088.8,347.9 L1093.9,353.6 L1099.0,359.3 L1104.1,366.4 L1109.2,370.7 L1114.4,377.2 L1119.5,384.2 L1124.6,385.3 L1129.7,387.6 L1134.8,384.1 L1140.0,371.8 L1145.1,361.1 L1150.2,339.0 L1155.3,318.2 L1160.4,304.1 L1165.5,296.5 L1170.7,297.8 L1175.8,297.0 L1180.9,293.1 L1186.0,288.1 L1191.1,283.5 L1196.3,282.9 L1201.4,283.5 L1206.5,286.5 L1211.6,292.6 L1216.7,293.5 L1221.8,299.6 L1227.0,300.8 L1232.1,306.7 L1237.2,309.6 L1242.3,308.7 L1247.4,308.3 L1252.6,309.8 L1257.7,312.6 L1262.8,317.6 L1267.9,318.1 L1273.0,323.1 L1278.1,323.3 L1283.3,323.7 L1288.4,321.4 L1293.5,316.3 L1298.6,322.5 L1303.7,326.3 L1308.9,324.0 L1314.0,324.0 L1319.1,326.7 L1324.2,328.0 L1329.3,330.8 L1334.4,336.7 L1339.6,339.2 L1344.7,345.6 L1349.8,345.6 L1354.9,348.1 L1360.0,347.0 L1365.1,351.5 L1370.3,361.7 L1375.4,369.3 L1380.5,366.7 L1385.6,368.4 L1390.7,368.5 L1395.9,370.3 L1401.0,374.1 L1406.1,375.0 L1411.2,378.8 L1416.3,384.8 L1421.4,388.2 L1426.6,391.3 L1431.7,391.8 L1436.8,386.0 L1441.9,380.1" fill="none" stroke="#f0912e" stroke-width="1.25"/>
<rect x="3" y="323.800" width="1493" height="3.800" fill="#4a86e0"/>
<path d="M3,329.4H1496" stroke="#70737b" stroke-width="1" stroke-dasharray="3.8,5.4"/>
<rect x="1124.2" y="262.6" width="2.8" height="3.8" rx="0.8" fill="#e0000f"/>
<rect x="1132.0" y="262.6" width="2.8" height="3.8" rx="0.8" fill="#e0000f"/>
<rect x="1139.9" y="262.6" width="2.8" height="3.8" rx="0.8" fill="#e0000f"/>
<rect x="1147.6" y="262.6" width="2.8" height="3.8" rx="0.8" fill="#e0000f"/>
<rect x="1155.2" y="262.6" width="2.8" height="3.8" rx="0.8" fill="#e0000f"/>
<rect x="1163.0" y="262.6" width="2.8" height="3.8" rx="0.8" fill="#e0000f"/>
<rect x="1170.7" y="262.6" width="2.8" height="3.8" rx="0.8" fill="#e0000f"/>
<rect x="1178.6" y="262.6" width="2.8" height="3.8" rx="0.8" fill="#e0000f"/>
<rect x="1186.4" y="262.6" width="2.8" height="3.8" rx="0.8" fill="#e0000f"/>
<rect x="1194.2" y="262.6" width="2.8" height="3.8" rx="0.8" fill="#e0000f"/>
</g>
<path d="M833.4,46V945" stroke="#696c75" stroke-width="1.05" stroke-dasharray="5.6,6.8"/>
<path d="M3.8,913.7 L8.9,919.3 L14.0,914.5 L19.1,911.4 L24.2,919.8 L29.4,914.7 L34.5,911.1 L39.6,910.3 L44.7,918.8 L49.8,921.1 L54.9,923.0 L60.1,923.9 L65.2,920.3 L70.3,924.1 L75.4,912.7 L80.5,913.6 L85.6,914.3 L90.8,906.0 L95.9,919.1 L101.0,906.5 L106.1,919.3 L111.2,913.0 L116.4,916.2 L121.5,898.6 L126.6,907.3 L131.7,920.6 L136.8,922.9 L141.9,926.6 L147.1,925.5 L152.2,919.7 L157.3,918.7 L162.4,914.1 L167.5,932.6 L172.7,924.2 L177.8,891.7 L182.9,890.1 L188.0,880.8 L193.1,887.5 L198.2,878.1 L203.4,882.0 L208.5,885.0 L213.6,883.3 L218.7,884.8 L223.8,899.7 L229.0,892.7 L234.1,885.3 L239.2,892.5 L244.3,893.1 L249.4,897.0 L254.5,892.8 L259.7,888.1 L264.8,877.2 L269.9,884.0 L275.0,882.2 L280.1,891.2 L285.2,888.5 L290.4,888.8 L295.5,897.1 L300.6,907.2 L305.7,912.5 L310.8,905.9 L316.0,904.5 L321.1,899.0 L326.2,899.8 L331.3,907.0 L336.4,912.3 L341.5,884.5 L346.7,891.3 L351.8,894.7 L356.9,886.9 L362.0,886.6 L367.1,897.2 L372.3,901.8 L377.4,909.2 L382.5,921.4 L387.6,921.7 L392.7,914.1 L397.8,918.5 L403.0,903.6 L408.1,900.6 L413.2,900.3 L418.3,896.5 L423.4,901.2 L428.6,884.7 L433.7,867.8 L438.8,859.3 L443.9,847.0 L449.0,850.7 L454.1,864.5 L459.3,861.8 L464.4,867.0 L469.5,859.8 L474.6,857.0 L479.7,852.5 L484.9,843.6 L490.0,835.5 L495.1,832.1 L500.2,831.6 L505.3,822.8 L510.4,835.5 L515.6,855.2 L520.7,849.1 L525.8,862.8 L530.9,865.4 L536.0,877.5 L541.1,886.7 L546.3,890.7 L551.4,890.9 L556.5,893.4 L561.6,902.5 L566.7,897.3 L571.9,895.6 L577.0,894.6 L582.1,901.3 L587.2,900.3 L592.3,900.6 L597.4,905.5 L602.6,908.1 L607.7,905.2 L612.8,906.1 L617.9,907.7 L623.0,900.4 L628.2,885.4 L633.3,893.4 L638.4,899.4 L643.5,896.5 L648.6,900.9 L653.7,902.5 L658.9,898.4 L664.0,902.5 L669.1,887.3 L674.2,890.7 L679.3,898.4 L684.5,894.6 L689.6,890.1 L694.7,895.3 L699.8,890.0 L704.9,876.7 L710.0,878.9 L715.2,880.1 L720.3,866.1 L725.4,864.5 L730.5,872.6 L735.6,865.8 L740.8,868.6 L745.9,868.4 L751.0,870.7 L756.1,880.3 L761.2,869.4 L766.3,867.1 L771.5,868.9 L776.6,885.1 L781.7,886.3 L786.8,880.3 L791.9,870.1 L797.1,886.7 L802.2,892.7 L807.3,887.3 L812.4,885.4 L817.5,878.5 L822.6,877.3 L827.8,876.2 L832.9,881.7 L838.0,882.0 L843.1,870.8 L848.2,866.6 L853.3,871.8 L858.5,871.2 L863.6,865.5 L868.7,874.2 L873.8,864.6 L878.9,858.1 L884.1,876.2 L889.2,885.8 L894.3,885.8 L899.4,888.2 L904.5,878.8 L909.6,891.5 L914.8,892.0 L919.9,898.3 L925.0,898.8 L930.1,881.3 L935.2,874.6 L940.4,877.7 L945.5,877.2 L950.6,874.0 L955.7,884.8 L960.8,882.0 L965.9,876.3 L971.1,873.7 L976.2,872.7 L981.3,869.6 L986.4,884.5 L991.5,882.3 L996.7,889.7 L1001.8,900.0 L1006.9,900.3 L1012.0,891.7 L1017.1,887.7 L1022.2,890.7 L1027.4,892.4 L1032.5,904.2 L1037.6,898.6 L1042.7,887.7 L1047.8,887.7 L1053.0,885.8 L1058.1,882.5 L1063.2,895.7 L1068.3,889.2 L1073.4,904.0 L1078.5,894.7 L1083.7,890.4 L1088.8,896.9 L1093.9,905.7 L1099.0,908.0 L1104.1,913.2 L1109.2,908.8 L1114.4,914.8 L1119.5,918.1 L1124.6,904.0 L1129.7,906.9 L1134.8,891.9 L1140.0,872.5 L1145.1,871.1 L1150.2,853.0 L1155.3,849.8 L1160.4,856.2 L1165.5,865.2 L1170.7,880.6 L1175.8,877.8 L1180.9,872.9 L1186.0,870.2 L1191.1,869.3 L1196.3,876.6 L1201.4,878.9 L1206.5,884.9 L1211.6,892.6 L1216.7,884.5 L1221.8,895.5 L1227.0,888.0 L1232.1,897.1 L1237.2,893.5 L1242.3,887.1 L1247.4,887.9 L1252.6,891.6 L1257.7,895.1 L1262.8,900.7 L1267.9,892.3 L1273.0,901.6 L1278.1,893.0 L1283.3,893.3 L1288.4,887.6 L1293.5,880.5 L1298.6,901.5 L1303.7,899.2 L1308.9,887.9 L1314.0,891.9 L1319.1,896.9 L1324.2,894.9 L1329.3,898.5 L1334.4,905.6 L1339.6,899.7 L1344.7,907.9 L1349.8,895.8 L1354.9,900.5 L1360.0,893.5 L1365.1,903.4 L1370.3,913.5 L1375.4,912.3 L1380.5,893.6 L1385.6,899.8 L1390.7,897.3 L1395.9,900.3 L1401.0,904.3 L1406.1,899.5 L1411.2,904.8 L1416.3,909.7 L1421.4,906.3 L1426.6,906.8 L1431.7,901.6 L1436.8,887.1 L1441.9,884.3" fill="none" stroke="#ef7f3e" stroke-width="1.25"/>
<rect x="1496.5" y="45.5" width="54.5" height="932" fill="#fff"/>
<rect x="1496" y="45.5" width="1.3" height="931.5" fill="#4f525d"/>
<rect x="2.4" y="807" width="1548.6" height="1.4" fill="#3c3f4a"/>
<rect x="3" y="945" width="1494" height="1.4" fill="#3c3f4a"/>
<rect x="3" y="946.4" width="1548" height="31" fill="#fff"/>
<rect x="0" y="977" width="1554" height="1.2" fill="#e0e3eb"/>
<rect x="3" y="978.2" width="1548" height="5.8" fill="#fff"/>
<path d="M1497,75.9h3.5" stroke="#4f525d" stroke-width="1"/>
<text x="1503.6" y="80.9" font-size="14" fill="#4f525d" textLength="35.4" lengthAdjust="spacingAndGlyphs">0.96000</text>
<path d="M1497,122.5h3.5" stroke="#4f525d" stroke-width="1"/>
<text x="1503.6" y="127.5" font-size="14" fill="#4f525d" textLength="35.4" lengthAdjust="spacingAndGlyphs">0.95000</text>
<path d="M1497,169.1h3.5" stroke="#4f525d" stroke-width="1"/>
<text x="1503.6" y="174.1" font-size="14" fill="#4f525d" textLength="35.4" lengthAdjust="spacingAndGlyphs">0.94000</text>
<path d="M1497,215.6h3.5" stroke="#4f525d" stroke-width="1"/>
<text x="1503.6" y="220.6" font-size="14" fill="#4f525d" textLength="35.4" lengthAdjust="spacingAndGlyphs">0.93000</text>
<path d="M1497,262.2h3.5" stroke="#4f525d" stroke-width="1"/>
<text x="1503.6" y="267.2" font-size="14" fill="#4f525d" textLength="35.4" lengthAdjust="spacingAndGlyphs">0.92000</text>
<path d="M1497,308.8h3.5" stroke="#4f525d" stroke-width="1"/>
<text x="1503.6" y="313.8" font-size="14" fill="#4f525d" textLength="35.4" lengthAdjust="spacingAndGlyphs">0.91000</text>
<path d="M1497,355.3h3.5" stroke="#4f525d" stroke-width="1"/>
<path d="M1497,401.9h3.5" stroke="#4f525d" stroke-width="1"/>
<path d="M1497,448.5h3.5" stroke="#4f525d" stroke-width="1"/>
<path d="M1497,495.1h3.5" stroke="#4f525d" stroke-width="1"/>
<text x="1503.6" y="500.1" font-size="14" fill="#4f525d" textLength="35.4" lengthAdjust="spacingAndGlyphs">0.87000</text>
<path d="M1497,541.6h3.5" stroke="#4f525d" stroke-width="1"/>
<text x="1503.6" y="546.6" font-size="14" fill="#4f525d" textLength="35.4" lengthAdjust="spacingAndGlyphs">0.86000</text>
<path d="M1497,588.2h3.5" stroke="#4f525d" stroke-width="1"/>
<text x="1503.6" y="593.2" font-size="14" fill="#4f525d" textLength="35.4" lengthAdjust="spacingAndGlyphs">0.85000</text>
<path d="M1497,634.8h3.5" stroke="#4f525d" stroke-width="1"/>
<text x="1503.6" y="639.8" font-size="14" fill="#4f525d" textLength="35.4" lengthAdjust="spacingAndGlyphs">0.84000</text>
<path d="M1497,681.3h3.5" stroke="#4f525d" stroke-width="1"/>
<text x="1503.6" y="686.3" font-size="14" fill="#4f525d" textLength="35.4" lengthAdjust="spacingAndGlyphs">0.83000</text>
<path d="M1497,727.9h3.5" stroke="#4f525d" stroke-width="1"/>
<text x="1503.6" y="732.9" font-size="14" fill="#4f525d" textLength="35.4" lengthAdjust="spacingAndGlyphs">0.82000</text>
<path d="M1497,774.5h3.5" stroke="#4f525d" stroke-width="1"/>
<text x="1503.6" y="779.5" font-size="14" fill="#4f525d" textLength="35.4" lengthAdjust="spacingAndGlyphs">0.81000</text>
<path d="M1497,836.0h3.5" stroke="#4f525d" stroke-width="1"/>
<text x="1503.6" y="841.0" font-size="14" fill="#4f525d" textLength="25.2" lengthAdjust="spacingAndGlyphs">80.00</text>
<path d="M1497,872.0h3.5" stroke="#4f525d" stroke-width="1"/>
<text x="1503.6" y="877.0" font-size="14" fill="#4f525d" textLength="25.2" lengthAdjust="spacingAndGlyphs">60.00</text>
<path d="M1497,908.0h3.5" stroke="#4f525d" stroke-width="1"/>
<text x="1503.6" y="913.0" font-size="14" fill="#4f525d" textLength="25.2" lengthAdjust="spacingAndGlyphs">40.00</text>
<path d="M1497,944.0h3.5" stroke="#4f525d" stroke-width="1"/>
<text x="1503.6" y="949.0" font-size="14" fill="#4f525d" textLength="25.2" lengthAdjust="spacingAndGlyphs">20.00</text>
<rect x="1497.3" y="938" width="54" height="7" fill="#fff"/>
<path d="M14.5,946V950" stroke="#4f525d" stroke-width="1"/>
<text x="5.8" y="968" font-size="14" fill="#4f525d" textLength="16.4" lengthAdjust="spacingAndGlyphs">Nov</text>
<path d="M121.5,946V950" stroke="#4f525d" stroke-width="1"/>
<text x="113.2" y="968" font-size="14" fill="#4f525d" textLength="16.6" lengthAdjust="spacingAndGlyphs">Dec</text>
<path d="M229.5,946V950" stroke="#4f525d" stroke-width="1"/>
<text x="217.4" y="968" font-size="14.4" fill="#4f525d" font-weight="bold" textLength="23.2" lengthAdjust="spacingAndGlyphs">2020</text>
<path d="M342.5,946V950" stroke="#4f525d" stroke-width="1"/>
<text x="333.4" y="968" font-size="14" fill="#4f525d" textLength="16.2" lengthAdjust="spacingAndGlyphs">Feb</text>
<path d="M444.5,946V950" stroke="#4f525d" stroke-width="1"/>
<text x="435.3" y="968" font-size="14" fill="#4f525d" textLength="17.2" lengthAdjust="spacingAndGlyphs">Mar</text>
<path d="M557.5,946V950" stroke="#4f525d" stroke-width="1"/>
<text x="548.7" y="968" font-size="14" fill="#4f525d" textLength="15.6" lengthAdjust="spacingAndGlyphs">Apr</text>
<path d="M669.5,946V950" stroke="#4f525d" stroke-width="1"/>
<text x="659.8" y="968" font-size="14" fill="#4f525d" textLength="18.6" lengthAdjust="spacingAndGlyphs">May</text>
<path d="M777.5,946V950" stroke="#4f525d" stroke-width="1"/>
<text x="768.8" y="968" font-size="14" fill="#4f525d" textLength="15.6" lengthAdjust="spacingAndGlyphs">Jun</text>
<path d="M889.5,946V950" stroke="#4f525d" stroke-width="1"/>
<text x="882.9" y="968" font-size="14" fill="#4f525d" textLength="12.6" lengthAdjust="spacingAndGlyphs">Jul</text>
<path d="M1007.5,946V950" stroke="#4f525d" stroke-width="1"/>
<text x="998.2" y="968" font-size="14" fill="#4f525d" textLength="17.4" lengthAdjust="spacingAndGlyphs">Aug</text>
<path d="M1114.5,946V950" stroke="#4f525d" stroke-width="1"/>
<text x="1106.1" y="968" font-size="14" fill="#4f525d" textLength="16.6" lengthAdjust="spacingAndGlyphs">Sep</text>
<path d="M1227.5,946V950" stroke="#4f525d" stroke-width="1"/>
<text x="1219.1" y="968" font-size="14" fill="#4f525d" textLength="15.8" lengthAdjust="spacingAndGlyphs">Oct</text>
<path d="M1340.5,946V950" stroke="#4f525d" stroke-width="1"/>
<text x="1331.4" y="968" font-size="14" fill="#4f525d" textLength="16.4" lengthAdjust="spacingAndGlyphs">Nov</text>
<path d="M1447.5,946V950" stroke="#4f525d" stroke-width="1"/>
<text x="1438.7" y="968" font-size="14" fill="#4f525d" textLength="16.6" lengthAdjust="spacingAndGlyphs">Dec</text>
<rect x="806" y="946" width="55" height="26.4" fill="#4c525e"/>
<path d="M833.5,946V950" stroke="#fff" stroke-width="1"/>
<text x="811" y="965" font-size="13.6" fill="#fff" font-weight="bold" textLength="44.4" lengthAdjust="spacingAndGlyphs">16 Jun '20</text>
<path d="M1521.7,954.6 L1524.3,954.6 L1524.9,956.9 L1524.9,956.9 L1526.6,955.8 L1528.5,958.1 L1527.6,960.3 L1527.6,960.2 L1529.4,961.0 L1529.4,964.2 L1527.6,965.0 L1527.6,964.9 L1528.5,967.1 L1526.6,969.4 L1524.9,968.3 L1524.9,968.3 L1524.3,970.6 L1521.7,970.6 L1521.1,968.3 L1521.1,968.3 L1519.4,969.4 L1517.5,967.1 L1518.4,964.9 L1518.4,965.0 L1516.6,964.2 L1516.6,961.0 L1518.4,960.2 L1518.4,960.3 L1517.5,958.1 L1519.4,955.8 L1521.1,956.9 L1521.1,956.9z" fill="none" stroke="#131722" stroke-width="1.1" stroke-linejoin="round"/>
<ellipse cx="1523" cy="962.6" rx="3.1" ry="3.9" fill="none" stroke="#131722" stroke-width="1.1"/>
<rect x="1496.2" y="315.6" width="50.8" height="3" fill="#4a86e0"/>
<rect x="1496.2" y="318" width="50.8" height="21.8" fill="#4c525e"/>
<path d="M1497,328.9h3.5" stroke="#fff" stroke-width="1"/>
<text x="1503.6" y="333.8" font-size="13.6" fill="#fff" font-weight="bold" textLength="36.4" lengthAdjust="spacingAndGlyphs">0.90556</text>
<rect x="1496.2" y="339.8" width="50.8" height="21.1" fill="#f5000d"/>
<path d="M1497,350.4h3.5" stroke="#fff" stroke-width="1"/>
<text x="1503.6" y="355.2" font-size="13.6" fill="#fff" font-weight="bold" textLength="36.4" lengthAdjust="spacingAndGlyphs">0.90101</text>
<rect x="1496.2" y="360.9" width="50.8" height="21.8" fill="#26a69a"/>
<path d="M1497,371.8h3.5" stroke="#fff" stroke-width="1"/>
<text x="1503.6" y="376.7" font-size="13.6" fill="#fff" font-weight="bold" textLength="36.4" lengthAdjust="spacingAndGlyphs">0.89963</text>
<rect x="1496.2" y="382.5" width="50.8" height="0.8" fill="#8fd2cb"/>
<rect x="1496.2" y="383.3" width="50.8" height="22.7" fill="#26a69a"/>
<text x="1501" y="399.5" font-size="13.6" fill="#fff" font-weight="bold" textLength="39.6" lengthAdjust="spacingAndGlyphs">12:14:45</text>
<rect x="1496.2" y="406" width="50.8" height="18.2" fill="#10303a"/>
<path d="M1497,415.1h3.5" stroke="#fff" stroke-width="1"/>
<text x="1503.6" y="420.0" font-size="13.6" fill="#fff" font-weight="bold" textLength="36.4" lengthAdjust="spacingAndGlyphs">0.89406</text>
<rect x="1496.2" y="424.2" width="50.8" height="20.8" fill="#34701e"/>
<path d="M1497,434.6h3.5" stroke="#fff" stroke-width="1"/>
<text x="1503.6" y="439.5" font-size="13.6" fill="#fff" font-weight="bold" textLength="36.4" lengthAdjust="spacingAndGlyphs">0.88648</text>
<rect x="1496.2" y="445" width="50.8" height="19.8" fill="#0000e6"/>
<path d="M1497,454.9h3.5" stroke="#fff" stroke-width="1"/>
<text x="1503.6" y="459.8" font-size="13.6" fill="#fff" font-weight="bold" textLength="36.4" lengthAdjust="spacingAndGlyphs">0.88022</text>
<rect x="1479" y="318" width="16" height="21.8" fill="#4c525e"/>
<path d="M1482.6,328.9h9M1487.1,323V334.8" stroke="#fff" stroke-width="1.2"/>
<rect x="745" y="319.4" width="9.8" height="13.2" rx="2.6" fill="#fff" stroke="#6c8fc9" stroke-width="1"/>
<rect x="1452.6" y="53.4" width="17.6" height="22" rx="2.5" fill="#fff" stroke="#e4e6eb" stroke-width="1"/>
<rect x="1473.8" y="53.4" width="17.6" height="22" rx="2.5" fill="#fff" stroke="#e4e6eb" stroke-width="1"/>
<path d="M1461.4,59.5V69.6M1458.3,66.2l3.1,3.6l3.1,-3.6" fill="none" stroke="#131722" stroke-width="1.1"/>
<path d="M1478.6,62.4v-1.4c0,-1.400 0.800,-2.200 2,-2.200h4c1.200,0 2,0.800 2,2.200v1.400M1478.600,66.800v1.400c0,1.400 0.800,2.200 2,2.200h4c1.200,0 2,-0.800 2,-2.200v-1.400" fill="none" stroke="#131722" stroke-width="1.1"/>
<rect x="1510.4" y="52.6" width="25.800" height="21.800" rx="3" fill="#fff" stroke="#e4e6eb" stroke-width="1"/>
<text x="1514.2" y="67.8" font-size="12.6" fill="#4f525d" textLength="18" lengthAdjust="spacingAndGlyphs">GBP</text>
<ellipse cx="22.600" cy="918.6" rx="13.6" ry="18.6" fill="#fff" stroke="#eceaf0" stroke-width="1"/>
<path d="M14.600,925.6c-1.200,-0.400 -1.400,-3.600 -0.400,-5.600c0.600,-1.600 1.800,-2.400 3.200,-2.200c0.200,-3.800 2.200,-7 5.200,-7.200c2.400,-0.200 4,1.800 4.800,4.600c2,-0.600 3.800,0.800 4.200,3.400c0.600,2.800 -0.200,6.200 -1.600,7z" fill="#2196f3"/>
<path d="M14.400,921.800l4.200,-5.600l3.600,5.400l4.400,-6.400l4.600,6.600" fill="none" stroke="#fff" stroke-width="1.500" stroke-linejoin="round"/>
<ellipse cx="1462.8" cy="762.4" rx="9.4" ry="12.4" fill="#fff" stroke="#f5a83a" stroke-width="1.1"/>
<ellipse cx="1462.8" cy="763.6" rx="7.4" ry="9.600000000000001" fill="#5a63c0"/>
<path d="M1457.3999999999999,756.4L1468.2,770.9M1468.2,756.4L1457.3999999999999,770.9" stroke="#f6e3ee" stroke-width="2.6"/>
<path d="M1455.3999999999999,763.6h14.8M1462.8,754.0V773.1999999999999" stroke="#fbeef4" stroke-width="4.2"/>
<path d="M1455.3999999999999,763.6h14.8M1462.8,754.0V773.1999999999999" stroke="#e8456f" stroke-width="1.9"/>
<ellipse cx="1455" cy="762.4" rx="9.4" ry="12.4" fill="#fff" stroke="#f5a83a" stroke-width="1.1"/>
<ellipse cx="1455" cy="763.6" rx="7.4" ry="9.600000000000001" fill="#5a63c0"/>
<path d="M1449.6,756.4L1460.4,770.9M1460.4,756.4L1449.6,770.9" stroke="#f6e3ee" stroke-width="2.6"/>
<path d="M1447.6,763.6h14.8M1455,754.0V773.1999999999999" stroke="#fbeef4" stroke-width="4.2"/>
<path d="M1447.6,763.6h14.8M1455,754.0V773.1999999999999" stroke="#e8456f" stroke-width="1.9"/>
<ellipse cx="1447.2" cy="762.4" rx="9.4" ry="12.4" fill="#fff" stroke="#f5a83a" stroke-width="1.1"/>
<ellipse cx="1447.2" cy="763.6" rx="7.4" ry="9.600000000000001" fill="#5a63c0"/>
<path d="M1441.8,756.4L1452.6000000000001,770.9M1452.6000000000001,756.4L1441.8,770.9" stroke="#f6e3ee" stroke-width="2.6"/>
<path d="M1439.8,763.6h14.8M1447.2,754.0V773.1999999999999" stroke="#fbeef4" stroke-width="4.2"/>
<path d="M1439.8,763.6h14.8M1447.2,754.0V773.1999999999999" stroke="#e8456f" stroke-width="1.9"/>
<rect x="1449.5" y="749.2" width="21.5" height="10.4" rx="4.5" fill="#fff"/>
<text x="1452.5" y="757.6" font-size="9.6" fill="#3a3d47" textLength="15.5" lengthAdjust="spacingAndGlyphs">3  3</text>
<ellipse cx="1463" cy="790.4" rx="9.4" ry="14" fill="#fff" stroke="#f5a83a" stroke-width="1.1"/>
<ellipse cx="1463" cy="791.6" rx="7.4" ry="11.2" fill="#5a63c0"/>
<path d="M1457.6,784.4L1468.4,798.9M1468.4,784.4L1457.6,798.9" stroke="#f6e3ee" stroke-width="2.6"/>
<path d="M1455.6,791.6h14.8M1463,780.4V802.8" stroke="#fbeef4" stroke-width="4.2"/>
<path d="M1455.6,791.6h14.8M1463,780.4V802.8" stroke="#e8456f" stroke-width="1.9"/>
<ellipse cx="1458.5" cy="790.4" rx="9.4" ry="14" fill="#fff" stroke="#f5a83a" stroke-width="1.1"/>
<ellipse cx="1458.5" cy="791.6" rx="7.4" ry="11.2" fill="#5a63c0"/>
<path d="M1453.1,784.4L1463.9,798.9M1463.9,784.4L1453.1,798.9" stroke="#f6e3ee" stroke-width="2.6"/>
<path d="M1451.1,791.6h14.8M1458.5,780.4V802.8" stroke="#fbeef4" stroke-width="4.2"/>
<path d="M1451.1,791.6h14.8M1458.5,780.4V802.8" stroke="#e8456f" stroke-width="1.9"/>
<ellipse cx="1453.5" cy="790.4" rx="9.4" ry="14" fill="#fff" stroke="#f5a83a" stroke-width="1.1"/>
<ellipse cx="1453.5" cy="791.6" rx="7.4" ry="11.2" fill="#5a63c0"/>
<path d="M1448.1,784.4L1458.9,798.9M1458.9,784.4L1448.1,798.9" stroke="#f6e3ee" stroke-width="2.6"/>
<path d="M1446.1,791.6h14.8M1453.5,780.4V802.8" stroke="#fbeef4" stroke-width="4.2"/>
<path d="M1446.1,791.6h14.8M1453.5,780.4V802.8" stroke="#e8456f" stroke-width="1.9"/>
<ellipse cx="1448" cy="790.4" rx="9.4" ry="14" fill="#fff" stroke="#f5a83a" stroke-width="1.1"/>
<ellipse cx="1448" cy="791.6" rx="7.4" ry="11.2" fill="#5a63c0"/>
<path d="M1442.6,784.4L1453.4,798.9M1453.4,784.4L1442.6,798.9" stroke="#f6e3ee" stroke-width="2.6"/>
<path d="M1440.6,791.6h14.8M1448,780.4V802.8" stroke="#fbeef4" stroke-width="4.2"/>
<path d="M1440.6,791.6h14.8M1448,780.4V802.8" stroke="#e8456f" stroke-width="1.9"/>
<ellipse cx="1442" cy="790.4" rx="9.4" ry="14" fill="#fff" stroke="#f5a83a" stroke-width="1.1"/>
<ellipse cx="1442" cy="791.6" rx="7.4" ry="11.2" fill="#5a63c0"/>
<path d="M1436.6,784.4L1447.4,798.9M1447.4,784.4L1436.6,798.9" stroke="#f6e3ee" stroke-width="2.6"/>
<path d="M1434.6,791.6h14.8M1442,780.4V802.8" stroke="#fbeef4" stroke-width="4.2"/>
<path d="M1434.6,791.6h14.8M1442,780.4V802.8" stroke="#e8456f" stroke-width="1.9"/>
<rect x="1445" y="775.6" width="27.5" height="10.4" rx="4.5" fill="#fff"/>
<text x="1448" y="784.0" font-size="9.6" fill="#3a3d47" textLength="21.5" lengthAdjust="spacingAndGlyphs">3 1 1 1 1</text>
<text x="10.6" y="70.6" font-size="18" fill="#50535e" textLength="191.4" lengthAdjust="spacingAndGlyphs">Euro / British Pound · 1D · FXCM</text>
<path d="M225,54h7v19.2h-7a9.2,9.6 0 0 1 0,-19.2z" fill="#d8efee"/>
<path d="M232,54h7.6a9.2,9.6 0 0 1 0,19.2h-7.6z" fill="#f5b5d0"/>
<ellipse cx="224.4" cy="63.6" rx="2.8" ry="3.6" fill="#089981"/>
<text x="239.6" y="68.6" font-size="15" fill="#d81b60" font-weight="bold" textLength="8.4" lengthAdjust="spacingAndGlyphs" text-anchor="middle">≈</text>
<text x="262.8" y="70.5" font-size="13.6" fill="#5d606b" textLength="6.3" lengthAdjust="spacingAndGlyphs">O</text>
<text x="270.9" y="70.5" font-size="13.6" fill="#e0525f" textLength="38.6" lengthAdjust="spacingAndGlyphs">0.89806</text>
<text x="315.6" y="70.5" font-size="13.6" fill="#5d606b" textLength="5.9" lengthAdjust="spacingAndGlyphs">H</text>
<text x="323" y="70.5" font-size="13.6" fill="#e0525f" textLength="38.2" lengthAdjust="spacingAndGlyphs">0.89867</text>
<text x="367.8" y="70.5" font-size="13.6" fill="#5d606b" textLength="4.7" lengthAdjust="spacingAndGlyphs">L</text>
<text x="373.6" y="70.5" font-size="13.6" fill="#e0525f" textLength="37.8" lengthAdjust="spacingAndGlyphs">0.89121</text>
<text x="417.8" y="70.5" font-size="13.6" fill="#5d606b" textLength="5.9" lengthAdjust="spacingAndGlyphs">C</text>
<text x="424.9" y="70.5" font-size="13.6" fill="#e0525f" textLength="38.5" lengthAdjust="spacingAndGlyphs">0.89549</text>
<text x="470" y="70.5" font-size="13.6" fill="#e0525f" textLength="89.6" lengthAdjust="spacingAndGlyphs">−0.00257 (−0.29%)</text>
<rect x="9.6" y="82.8" width="51.6" height="26" rx="3.5" fill="#fff" stroke="#e0525f" stroke-width="1.2"/>
<text x="16.2" y="101.6" font-size="15" fill="#e0525f" textLength="33" lengthAdjust="spacingAndGlyphs">0.8996</text>
<text x="49.8" y="99" font-size="9.5" fill="#e0525f" textLength="4.4" lengthAdjust="spacingAndGlyphs">3</text>
<text x="68" y="101.2" font-size="12.4" fill="#5d606b" textLength="12.4" lengthAdjust="spacingAndGlyphs">0.1</text>
<rect x="88.2" y="82.8" width="51.400" height="26" rx="3.5" fill="#fff" stroke="#2f8fe0" stroke-width="1.2"/>
<text x="94.8" y="101.6" font-size="15" fill="#2f8fe0" textLength="33" lengthAdjust="spacingAndGlyphs">0.8996</text>
<text x="128.4" y="99" font-size="9.5" fill="#2f8fe0" textLength="4.6" lengthAdjust="spacingAndGlyphs">4</text>
<text x="10.6" y="133.4" font-size="13.5" fill="#5d606b" textLength="57" lengthAdjust="spacingAndGlyphs">EMA 9 close</text>
<text x="75" y="133.4" font-size="13.5" fill="#f28b1c" textLength="39.2" lengthAdjust="spacingAndGlyphs">0.89488</text>
<text x="10.6" y="160.6" font-size="13.5" fill="#5d606b" textLength="64.4" lengthAdjust="spacingAndGlyphs">BB 20 close 2</text>
<text x="83.2" y="160.6" font-size="13.5" fill="#8b3a47" textLength="39" lengthAdjust="spacingAndGlyphs">0.89446</text>
<text x="126.7" y="160.6" font-size="13.5" fill="#2a8f86" textLength="38.6" lengthAdjust="spacingAndGlyphs">0.90138</text>
<text x="171.3" y="160.6" font-size="13.5" fill="#2a8f86" textLength="39" lengthAdjust="spacingAndGlyphs">0.88754</text>
<rect x="10.6" y="171.8" width="23.6" height="22.4" rx="2.5" fill="#fff" stroke="#dfe1e7" stroke-width="1"/>
<path d="M19.6,184.4l2.8,-3.2l2.8,3.2" fill="none" stroke="#131722" stroke-width="1.3"/>
<text x="10.2" y="831.6" font-size="13.5" fill="#5d606b" textLength="58.4" lengthAdjust="spacingAndGlyphs">RSI 14 close</text>
<text x="75.4" y="831.6" font-size="13.5" fill="#f28b1c" textLength="27.8" lengthAdjust="spacingAndGlyphs">54.76</text>
<rect x="0" y="0" width="1554" height="1.5" fill="#e9ebf0"/>
<rect x="0" y="0" width="2.4" height="984" fill="#e6e6f3"/>
<rect x="1551" y="0" width="3" height="984" fill="#e1e4ee"/>
<rect x="3" y="1.5" width="1548" height="43" fill="#fff"/>
<rect x="3" y="44" width="1548" height="1.5" fill="#e0e3eb"/>
<path d="M88.5,2V44M120.5,2V44M153.5,2V44M241,2V44M333,2V44M425.5,2V44M518.5,2V44M584.5,2V44M659.5,2V44M713,2V44M1213,2V44M1246.5,2V44M1349,2V44M1382.5,2V44M1416.5,2V44" stroke="#e9ebf0" stroke-width="1"/>
<text x="13.4" y="28.4" font-size="15.2" fill="#131722" font-weight="bold" textLength="43.8" lengthAdjust="spacingAndGlyphs">EURGBP</text>
<text x="101.4" y="28.5" font-size="16.2" fill="#131722" textLength="6.8" lengthAdjust="spacingAndGlyphs">D</text>
<g fill="none" stroke="#131722" stroke-width="1.1"><path d="M134.3,11.5V14.7M134.3,30.1V33.5M141.6,14.5V18M141.6,27.1V31"/><rect x="132.4" y="14.7" width="3.8" height="15.4" rx="0.6"/><rect x="139.7" y="18" width="3.8" height="9.1" rx="0.6"/></g>
<g fill="none" stroke="#131722" stroke-width="1.25"><ellipse cx="170.3" cy="23" rx="7.9" ry="10.5"/><path d="M166.4,23H174.3M170.3,17.6V28.4"/></g>
<text x="184.4" y="28.5" font-size="16.2" fill="#131722" textLength="47" lengthAdjust="spacingAndGlyphs">Compare</text>
<g fill="none" stroke="#131722" stroke-width="1.35" stroke-linecap="round"><path d="M260.2,14.4c-2.600,-1.500 -4.400,-0.200 -4.600,2.600l-0.800,11.400c-0.200,2.800 -1.600,3.800 -3.400,2.600"/><path d="M252.2,20h6"/><path d="M259.2,26.600l4.200,5.200M263.400,26.600l-4.200,5.200" stroke-width="1.400"/></g>
<text x="271.5" y="28.5" font-size="16.2" fill="#131722" textLength="52.2" lengthAdjust="spacingAndGlyphs">Indicators</text>
<g fill="none" stroke="#131722" stroke-width="1.1" stroke-linejoin="round"><path d="M342.6,31.3V25h3.4v6.3M346,31.3V20.6h3.4v10.7M349.4,31.3V16.2h3.4v15.1M349.4,24h-0M352.8,31.3V15.2h3.4v16.1M342.2,31.3h14.4"/></g>
<text x="364" y="28.5" font-size="16.2" fill="#131722" textLength="52.4" lengthAdjust="spacingAndGlyphs">Financials</text>
<g fill="none" stroke="#131722" stroke-width="1.1" stroke-linecap="round" stroke-linejoin="round"><path d="M434.8,23.6l4.2,-8.4l5,6l6,-7.4"/><path d="M435.3,27.5V31.3M438.4,25V31.3M441.5,27.5V31.3M444.6,23.5V31.3M447.7,26.5V31.3M450,28.5V31.3" stroke-width="1"/></g>
<text x="456" y="28.5" font-size="16.2" fill="#131722" textLength="54" lengthAdjust="spacingAndGlyphs">Templates</text>
<g fill="none" stroke="#131722" stroke-width="1.1" stroke-linecap="round"><path d="M537.5,31.2a6.6,8.8 0 1 1 4.9,-10.6"/><path d="M535.3,18.3V24.2h-3"/><path d="M527.2,17.6c-0.4,-3.4 1.6,-5.4 4.3,-4.6M543.4,17.6c0.4,-3.4 -1.6,-5.4 -4.3,-4.6"/><path d="M540.3,24.6V34.6M536.6,29.6h7.4"/></g>
<text x="549.4" y="28.5" font-size="16.2" fill="#131722" textLength="25.8" lengthAdjust="spacingAndGlyphs">Alert</text>
<g fill="none" stroke="#131722" stroke-width="1.1" stroke-linejoin="round"><path d="M600.2,17.8V29.4L594.8,23.6z"/><path d="M607.6,17.8V29.4L602.2,23.6z"/></g>
<text x="615.2" y="28.5" font-size="16.2" fill="#131722" textLength="35" lengthAdjust="spacingAndGlyphs">Replay</text>
<path d="M671.6,17.3l-3.3,4.2l3.3,4.2M668.5,21.5h6.4c3.4,0 4.6,2.6 4.6,7.4" fill="none" stroke="#131722" stroke-width="1.1" stroke-linecap="round" stroke-linejoin="round"/>
<path d="M700.2,17.3l3.3,4.2l-3.3,4.2M703.3,21.5h-6.4c-3.4,0 -4.6,2.6 -4.6,7.4" fill="none" stroke="#c9ccd3" stroke-width="1.1" stroke-linecap="round" stroke-linejoin="round"/>
<rect x="1222.3" y="13.8" width="15.6" height="18.4" rx="2.2" fill="none" stroke="#131722" stroke-width="1.1"/>
<path d="M1256.5,31.2c-3,0 -3.8,-3.2 -3.2,-5.4c0.5,-1.8 1.6,-2.8 3,-3c0.2,-4.6 2.4,-8.4 6.2,-8.4c3.2,0 5.2,2.6 5.8,6.2c3,0.4 4.6,2.8 4.6,5.4c0,3 -1.8,5.2 -4.4,5.2z" fill="none" stroke="#131722" stroke-width="1" stroke-dasharray="2,1.5"/>
<text x="1277.5" y="28.5" font-size="16" fill="#131722" textLength="49" lengthAdjust="spacingAndGlyphs">Unnamed</text>
<path d="M1337.2,21.2l3.4,3.6l3.4,-3.6" fill="none" stroke="#131722" stroke-width="1.1"/>
<path d="M1364.5,12.3 L1368.1,12.3 L1368.8,15.0 L1368.8,15.0 L1370.8,13.7 L1373.4,17.0 L1372.4,19.6 L1372.4,19.6 L1374.5,20.5 L1374.5,25.1 L1372.4,26.0 L1372.4,26.0 L1373.4,28.6 L1370.8,31.9 L1368.8,30.6 L1368.8,30.6 L1368.1,33.3 L1364.5,33.3 L1363.8,30.6 L1363.8,30.6 L1361.8,31.9 L1359.2,28.6 L1360.2,26.0 L1360.2,26.0 L1358.1,25.1 L1358.1,20.5 L1360.2,19.6 L1360.2,19.6 L1359.2,17.0 L1361.8,13.7 L1363.8,15.0 L1363.8,15.0z" fill="none" stroke="#131722" stroke-width="1.1" stroke-linejoin="round"/>
<ellipse cx="1366.3" cy="22.8" rx="2.3" ry="3" fill="none" stroke="#131722" stroke-width="1.1"/>
<path d="M1392.6,18.6V14.2h3.6M1392.8,14.4l4,5M1406.8,18.6V14.2h-3.6M1406.6,14.4l-4,5M1392.6,27V31.4h3.6M1392.8,31.2l4,-5M1406.8,27V31.4h-3.6M1406.6,31.2l-4,-5" fill="none" stroke="#131722" stroke-width="1.1"/>
<path d="M1425.4,17.4h2.8l1.6,-3h5.2l1.6,3h2.8c1.2,0 2,1 2,2.2v10c0,1.2 -0.8,2.2 -2,2.2h-14c-1.2,0 -2,-1 -2,-2.2v-10c0,-1.200 0.8,-2.2 2,-2.2z" fill="none" stroke="#131722" stroke-width="1.1" stroke-linejoin="round"/>
<ellipse cx="1432.4" cy="24.2" rx="3.4" ry="4.4" fill="none" stroke="#131722" stroke-width="1.1"/>
<rect x="1449" y="1.5" width="102" height="42.5" fill="#2196f3"/>
<rect x="1516.8" y="1.5" width="1" height="42.5" fill="#64b5f6"/>
<text x="1463" y="29" font-size="16.5" fill="#fff" textLength="41.2" lengthAdjust="spacingAndGlyphs">Publish</text>
<ellipse cx="1533.7" cy="22.8" rx="8.8" ry="11.2" fill="none" stroke="#fff" stroke-width="1.2"/>
<path d="M1531.4,18.2V27.4L1537.4,22.8z" fill="#fff"/>
</svg>
</body></html>
